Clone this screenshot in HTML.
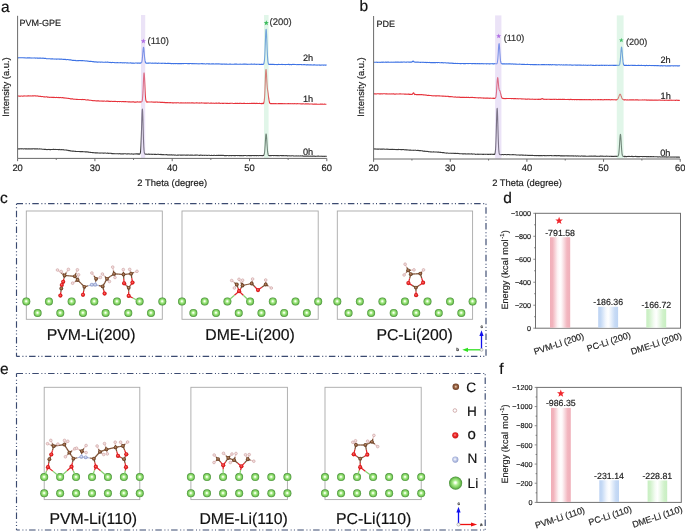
<!DOCTYPE html><html><head><meta charset="utf-8"><style>html,body{margin:0;padding:0;background:#fff;overflow:hidden}svg{display:block;will-change:transform}text{font-family:"Liberation Sans",sans-serif;text-rendering:geometricPrecision;stroke:currentColor;stroke-width:0.18px}</style></head><body>
<svg width="685" height="531" viewBox="0 0 685 531">
<defs>
<radialGradient id="li" cx="0.5" cy="0.5" r="0.5" fx="0.48" fy="0.46">
<stop offset="0" stop-color="#ffffff"/><stop offset="0.14" stop-color="#f2ffe9"/><stop offset="0.38" stop-color="#aeee90"/><stop offset="0.7" stop-color="#7ccd5e"/><stop offset="0.88" stop-color="#5ca846"/><stop offset="1" stop-color="#438c34"/></radialGradient>
<linearGradient id="gp" x1="0" x2="1" y1="0" y2="0"><stop offset="0" stop-color="#f1aeb8"/><stop offset="0.13" stop-color="#f2b4bd"/><stop offset="0.38" stop-color="#fdf4f5"/><stop offset="0.5" stop-color="#fff"/><stop offset="0.58" stop-color="#fdf5f6"/><stop offset="0.84" stop-color="#f2b6bf"/><stop offset="1" stop-color="#f0b0ba"/></linearGradient>
<linearGradient id="gb" x1="0" x2="1" y1="0" y2="0"><stop offset="0" stop-color="#bdd3f3"/><stop offset="0.13" stop-color="#c4d9f5"/><stop offset="0.38" stop-color="#f3f7fd"/><stop offset="0.5" stop-color="#fff"/><stop offset="0.58" stop-color="#f4f8fd"/><stop offset="0.84" stop-color="#c6daf5"/><stop offset="1" stop-color="#bfd5f3"/></linearGradient>
<linearGradient id="gg" x1="0" x2="1" y1="0" y2="0"><stop offset="0" stop-color="#c8efc2"/><stop offset="0.13" stop-color="#cff1c9"/><stop offset="0.38" stop-color="#f4fcf3"/><stop offset="0.5" stop-color="#fff"/><stop offset="0.58" stop-color="#f5fcf4"/><stop offset="0.84" stop-color="#d0f1ca"/><stop offset="1" stop-color="#c8efc2"/></linearGradient>
</defs>
<text x="1" y="11.7" font-size="15.5" text-anchor="start" fill="#111" color="#111" >a</text>
<text x="19.5" y="26.4" font-size="9" text-anchor="start" fill="#222" color="#222" >PVM-GPE</text>
<polyline points="17.60,57.75 18.10,57.70 18.60,57.85 19.10,57.68 19.60,57.82 20.10,57.77 20.60,57.68 21.10,57.82 21.60,57.68 22.10,57.81 22.60,57.71 23.10,57.72 23.60,57.83 24.10,57.96 24.60,57.75 25.10,57.79 25.60,57.92 26.10,58.03 26.60,57.93 27.10,57.88 27.60,58.07 28.10,57.80 28.60,58.05 29.10,57.89 29.60,57.86 30.10,57.86 30.60,57.93 31.10,58.09 31.60,57.91 32.10,58.04 32.60,58.07 33.10,58.00 33.60,58.06 34.10,57.92 34.60,57.93 35.10,57.98 35.60,58.13 36.10,58.06 36.60,58.03 37.10,58.11 37.60,58.08 38.10,58.03 38.60,58.19 39.10,58.16 39.60,58.02 40.10,58.12 40.60,58.11 41.10,58.23 41.60,58.21 42.10,58.11 42.60,58.35 43.10,58.14 43.60,58.27 44.10,58.43 44.60,58.30 45.10,58.45 45.60,58.37 46.10,58.61 46.60,58.69 47.10,58.68 47.60,58.81 48.10,58.68 48.60,58.82 49.10,58.81 49.60,58.82 50.10,58.79 50.60,58.90 51.10,58.94 51.60,58.81 52.10,58.89 52.60,58.73 53.10,58.94 53.60,58.95 54.10,59.09 54.60,59.07 55.10,58.94 55.60,59.00 56.10,59.11 56.60,58.95 57.10,59.11 57.60,59.04 58.10,59.05 58.60,59.05 59.10,59.27 59.60,59.09 60.10,59.12 60.60,59.17 61.10,59.32 61.60,59.09 62.10,59.22 62.60,59.27 63.10,59.40 63.60,59.40 64.10,59.45 64.60,59.31 65.10,59.39 65.60,59.42 66.10,59.62 66.60,59.69 67.10,59.50 67.60,59.56 68.10,59.63 68.60,59.69 69.10,59.82 69.60,59.91 70.10,59.87 70.60,59.85 71.10,60.04 71.60,60.08 72.10,60.19 72.60,60.36 73.10,60.34 73.60,60.34 74.10,60.42 74.60,60.48 75.10,60.34 75.60,60.63 76.10,60.63 76.60,60.70 77.10,60.70 77.60,60.61 78.10,60.63 78.60,60.56 79.10,60.73 79.60,60.57 80.10,60.57 80.60,60.61 81.10,60.61 81.60,60.67 82.10,60.60 82.60,60.60 83.10,60.67 83.60,60.68 84.10,60.78 84.60,60.72 85.10,61.01 85.60,60.97 86.10,60.87 86.60,60.95 87.10,61.02 87.60,61.08 88.10,61.05 88.60,61.32 89.10,61.42 89.60,61.32 90.10,61.38 90.60,61.31 91.10,61.37 91.60,61.50 92.10,61.53 92.60,61.75 93.10,61.60 93.60,61.61 94.10,61.93 94.60,61.85 95.10,61.77 95.60,61.93 96.10,61.81 96.60,61.99 97.10,62.16 97.60,62.15 98.10,62.12 98.60,62.00 99.10,62.05 99.60,62.00 100.10,62.18 100.60,62.11 101.10,62.19 101.60,62.05 102.10,62.03 102.60,62.21 103.10,62.27 103.60,62.24 104.10,62.24 104.60,62.26 105.10,62.25 105.60,62.11 106.10,62.22 106.60,62.19 107.10,62.11 107.60,62.13 108.10,62.23 108.60,62.25 109.10,62.40 109.60,62.50 110.10,62.37 110.60,62.54 111.10,62.58 111.60,62.59 112.10,62.44 112.60,62.42 113.10,62.44 113.60,62.45 114.10,62.48 114.60,62.62 115.10,62.72 115.60,62.72 116.10,62.63 116.60,62.69 117.10,62.75 117.60,62.55 118.10,62.73 118.60,62.81 119.10,62.78 119.60,62.77 120.10,62.69 120.60,62.60 121.10,62.79 121.60,62.66 122.10,62.80 122.60,62.86 123.10,62.70 123.60,62.72 124.10,62.89 124.60,62.84 125.10,62.69 125.60,62.70 126.10,62.73 126.60,62.97 127.10,62.96 127.60,62.79 128.10,63.01 128.60,63.08 129.10,63.00 129.60,62.93 130.10,63.01 130.60,62.90 131.10,62.89 131.60,63.19 132.10,63.11 132.60,63.08 133.10,63.21 133.60,63.07 134.10,63.21 134.60,63.20 135.10,63.01 135.60,63.03 136.10,63.04 136.60,63.02 137.10,63.13 137.60,63.03 138.10,63.08 138.60,62.99 138.80,63.22 139.00,63.06 139.20,63.09 139.40,63.13 139.60,63.22 139.80,63.08 140.00,63.23 140.20,63.10 140.40,63.11 140.60,63.10 140.80,62.93 141.00,63.03 141.20,62.87 141.40,62.66 141.60,62.59 141.80,61.86 142.00,61.06 142.20,59.80 142.40,57.92 142.60,55.58 142.80,53.10 143.00,50.63 143.20,48.68 143.40,47.29 143.60,47.30 143.80,48.18 144.00,50.06 144.20,52.62 144.40,55.09 144.60,57.46 144.80,59.46 145.00,60.94 145.20,61.78 145.40,62.44 145.60,62.76 145.80,62.95 146.00,63.09 146.20,63.06 146.40,63.10 146.60,63.09 146.80,63.23 147.00,63.16 147.20,63.21 147.40,63.23 147.60,63.03 147.80,63.12 148.00,63.23 148.20,63.20 148.40,62.99 148.60,62.99 149.10,63.09 149.60,62.98 150.10,63.03 150.60,62.98 151.10,63.17 151.60,63.20 152.10,63.24 152.60,63.03 153.10,63.20 153.60,63.19 154.10,63.04 154.60,63.27 155.10,63.31 155.60,63.09 156.10,63.32 156.60,63.16 157.10,63.20 157.60,63.36 158.10,63.32 158.60,63.13 159.10,63.22 159.60,63.26 160.10,63.22 160.60,63.18 161.10,63.23 161.60,63.37 162.10,63.17 162.60,63.34 163.10,63.32 163.60,63.20 164.10,63.31 164.60,63.41 165.10,63.39 165.60,63.27 166.10,63.55 166.60,63.51 167.10,63.57 167.60,63.32 168.10,63.38 168.60,63.33 169.10,63.56 169.60,63.42 170.10,63.38 170.60,63.48 171.10,63.64 171.60,63.62 172.10,63.46 172.60,63.43 173.10,63.67 173.60,63.58 174.10,63.62 174.60,63.44 175.10,63.44 175.60,63.63 176.10,63.56 176.60,63.46 177.10,63.72 177.60,63.63 178.10,63.69 178.60,63.47 179.10,63.71 179.60,63.47 180.10,63.71 180.60,63.59 181.10,63.55 181.60,63.62 182.10,63.73 182.60,63.53 183.10,63.49 183.60,63.61 184.10,63.53 184.60,63.49 185.10,63.51 185.60,63.48 186.10,63.53 186.60,63.56 187.10,63.56 187.60,63.70 188.10,63.56 188.60,63.63 189.10,63.54 189.60,63.59 190.10,63.50 190.60,63.57 191.10,63.50 191.60,63.72 192.10,63.67 192.60,63.57 193.10,63.66 193.60,63.80 194.10,63.56 194.60,63.78 195.10,63.67 195.60,63.69 196.10,63.80 196.60,63.67 197.10,63.71 197.60,63.77 198.10,63.87 198.60,63.68 199.10,63.84 199.60,63.81 200.10,63.79 200.60,63.73 201.10,63.72 201.60,63.64 202.10,63.67 202.60,63.66 203.10,63.87 203.60,63.73 204.10,63.71 204.60,63.69 205.10,63.93 205.60,63.94 206.10,63.89 206.60,63.78 207.10,63.78 207.60,63.80 208.10,63.86 208.60,63.77 209.10,63.87 209.60,63.82 210.10,64.04 210.60,64.05 211.10,63.93 211.60,63.85 212.10,64.07 212.60,63.88 213.10,63.90 213.60,63.81 214.10,63.93 214.60,63.96 215.10,63.98 215.60,63.90 216.10,63.99 216.60,63.85 217.10,63.94 217.60,63.89 218.10,63.99 218.60,63.89 219.10,63.89 219.60,63.98 220.10,63.97 220.60,64.08 221.10,64.07 221.60,64.14 222.10,64.12 222.60,64.15 223.10,64.20 223.60,64.06 224.10,64.05 224.60,64.25 225.10,64.01 225.60,64.18 226.10,64.17 226.60,63.99 227.10,64.23 227.60,64.25 228.10,64.18 228.60,64.22 229.10,64.24 229.60,64.05 230.10,64.17 230.60,64.16 231.10,64.27 231.60,64.26 232.10,64.27 232.60,64.20 233.10,64.30 233.60,64.24 234.10,64.24 234.60,64.11 235.10,64.05 235.60,64.08 236.10,64.15 236.60,64.08 237.10,64.30 237.60,64.21 238.10,64.24 238.60,64.24 239.10,64.25 239.60,64.20 240.10,64.05 240.60,64.29 241.10,64.27 241.60,64.20 242.10,64.21 242.60,64.25 243.10,64.07 243.60,64.27 244.10,64.13 244.60,64.08 245.10,64.14 245.60,64.28 246.10,64.12 246.60,64.28 247.10,64.36 247.60,64.22 248.10,64.18 248.60,64.22 249.10,64.28 249.60,64.31 250.10,64.27 250.60,64.28 251.10,64.11 251.60,64.13 252.10,64.17 252.60,64.32 253.10,64.19 253.60,64.27 254.10,64.11 254.60,64.13 255.10,64.20 255.60,64.32 256.10,64.33 256.60,64.33 257.10,64.22 257.60,64.29 258.10,64.28 258.60,64.29 259.10,64.19 259.60,64.42 260.10,64.22 260.60,64.46 261.10,64.45 261.60,64.18 261.80,64.31 262.00,64.42 262.20,64.47 262.40,64.32 262.60,64.26 262.80,64.24 263.00,64.45 263.20,64.21 263.40,64.26 263.60,63.99 263.80,63.83 264.00,63.43 264.20,62.26 264.40,60.96 264.60,58.57 264.80,55.45 265.00,51.21 265.20,46.11 265.40,41.01 265.60,35.88 265.80,31.75 266.00,29.44 266.20,29.38 266.40,31.28 266.60,34.95 266.80,39.77 267.00,45.14 267.20,50.20 267.40,54.71 267.60,57.89 267.80,60.59 268.00,62.27 268.20,63.08 268.40,63.91 268.60,64.17 268.80,64.39 269.00,64.28 269.20,64.34 269.40,64.36 269.60,64.55 269.80,64.43 270.00,64.36 270.20,64.39 270.40,64.34 270.60,64.28 270.80,64.29 271.00,64.52 271.20,64.35 271.70,64.55 272.20,64.35 272.70,64.36 273.20,64.44 273.70,64.34 274.20,64.40 274.70,64.58 275.20,64.56 275.70,64.55 276.20,64.50 276.70,64.58 277.20,64.60 277.70,64.48 278.20,64.54 278.70,64.34 279.20,64.54 279.70,64.46 280.20,64.56 280.70,64.53 281.20,64.42 281.70,64.35 282.20,64.62 282.70,64.38 283.20,64.48 283.70,64.45 284.20,64.43 284.70,64.57 285.20,64.64 285.70,64.43 286.20,64.55 286.70,64.44 287.20,64.52 287.70,64.47 288.20,64.40 288.70,64.40 289.20,64.41 289.70,64.62 290.20,64.50 290.70,64.42 291.20,64.63 291.70,64.66 292.20,64.50 292.70,64.41 293.20,64.43 293.70,64.41 294.20,64.49 294.70,64.42 295.20,64.47 295.70,64.48 296.20,64.58 296.70,64.69 297.20,64.65 297.70,64.56 298.20,64.57 298.70,64.61 299.20,64.58 299.70,64.57 300.20,64.50 300.70,64.58 301.20,64.79 301.70,64.55 302.20,64.68 302.70,64.73 303.20,64.81 303.70,64.62 304.20,64.65 304.70,64.66 305.20,64.71 305.70,64.74 306.20,64.91 306.70,64.89 307.20,64.91 307.70,64.66 308.20,64.68 308.70,64.89 309.20,64.96 309.70,64.85 310.20,64.89 310.70,64.73 311.20,64.86 311.70,65.03 312.20,65.01 312.70,65.03 313.20,65.08 313.70,64.87 314.20,64.84 314.70,64.86 315.20,64.98 315.70,65.04 316.20,65.13 316.70,65.07 317.20,65.06 317.70,65.10 318.20,65.02 318.70,65.05 319.20,64.91 319.70,65.14 320.20,64.98 320.70,65.19 321.20,65.11 321.70,65.02 322.20,64.97 322.70,65.01 323.20,65.13 323.70,65.15 324.20,64.98 324.70,64.97 325.20,65.10 325.70,65.12 326.20,65.07 326.70,65.02" fill="none" stroke="#3d72e4" stroke-width="1.1" stroke-linejoin="round"/>
<polyline points="17.60,96.13 18.10,95.95 18.60,96.04 19.10,96.08 19.60,96.23 20.10,96.13 20.60,96.20 21.10,96.07 21.60,95.99 22.10,95.99 22.60,96.20 23.10,96.11 23.60,95.99 24.10,95.89 24.60,96.03 25.10,96.07 25.60,95.99 26.10,95.93 26.60,96.04 27.10,96.11 27.60,95.89 28.10,95.82 28.60,95.91 29.10,95.92 29.60,95.99 30.10,95.84 30.60,96.02 31.10,95.99 31.60,95.92 32.10,95.82 32.60,96.05 33.10,95.85 33.60,96.00 34.10,95.82 34.60,95.82 35.10,95.98 35.60,95.86 36.10,96.08 36.60,95.97 37.10,95.92 37.60,95.98 38.10,96.09 38.60,96.22 39.10,96.37 39.60,96.19 40.10,96.33 40.60,96.34 41.10,96.63 41.60,96.44 42.10,96.47 42.60,96.52 43.10,96.67 43.60,96.86 44.10,96.88 44.60,96.86 45.10,96.95 45.60,96.93 46.10,96.78 46.60,96.80 47.10,97.10 47.60,97.14 48.10,97.03 48.60,97.31 49.10,97.30 49.60,97.35 50.10,97.35 50.60,97.30 51.10,97.26 51.60,97.34 52.10,97.37 52.60,97.56 53.10,97.32 53.60,97.58 54.10,97.37 54.60,97.42 55.10,97.57 55.60,97.58 56.10,97.47 56.60,97.36 57.10,97.49 57.60,97.46 58.10,97.63 58.60,97.41 59.10,97.48 59.60,97.65 60.10,97.41 60.60,97.55 61.10,97.70 61.60,97.72 62.10,97.54 62.60,97.58 63.10,97.63 63.60,97.94 64.10,97.79 64.60,98.00 65.10,98.10 65.60,97.99 66.10,98.04 66.60,98.31 67.10,98.27 67.60,98.23 68.10,98.44 68.60,98.39 69.10,98.45 69.60,98.43 70.10,98.73 70.60,98.85 71.10,98.83 71.60,98.99 72.10,98.78 72.60,98.90 73.10,99.04 73.60,99.24 74.10,99.29 74.60,99.17 75.10,99.18 75.60,99.28 76.10,99.34 76.60,99.50 77.10,99.31 77.60,99.52 78.10,99.53 78.60,99.57 79.10,99.57 79.60,99.53 80.10,99.45 80.60,99.45 81.10,99.47 81.60,99.60 82.10,99.41 82.60,99.46 83.10,99.65 83.60,99.53 84.10,99.50 84.60,99.53 85.10,99.72 85.60,99.70 86.10,99.94 86.60,99.96 87.10,100.04 87.60,99.88 88.10,99.88 88.60,99.94 89.10,100.11 89.60,100.24 90.10,100.22 90.60,100.21 91.10,100.32 91.60,100.44 92.10,100.51 92.60,100.59 93.10,100.68 93.60,100.67 94.10,100.56 94.60,100.82 95.10,100.70 95.60,100.83 96.10,100.81 96.60,100.95 97.10,100.82 97.60,100.86 98.10,100.88 98.60,100.87 99.10,101.10 99.60,101.02 100.10,100.95 100.60,100.97 101.10,101.15 101.60,101.01 102.10,100.93 102.60,101.11 103.10,101.07 103.60,101.19 104.10,100.93 104.60,101.06 105.10,101.18 105.60,101.20 106.10,101.24 106.60,101.00 107.10,101.09 107.60,101.06 108.10,101.10 108.60,101.36 109.10,101.27 109.60,101.39 110.10,101.25 110.60,101.42 111.10,101.32 111.60,101.29 112.10,101.46 112.60,101.54 113.10,101.31 113.60,101.47 114.10,101.50 114.60,101.40 115.10,101.46 115.60,101.41 116.10,101.45 116.60,101.47 117.10,101.59 117.60,101.62 118.10,101.49 118.60,101.44 119.10,101.54 119.60,101.65 120.10,101.51 120.60,101.54 121.10,101.51 121.60,101.70 122.10,101.63 122.60,101.49 123.10,101.51 123.60,101.61 124.10,101.67 124.60,101.72 125.10,101.57 125.60,101.61 126.10,101.79 126.60,101.72 127.10,101.71 127.60,101.74 128.10,101.95 128.60,101.78 129.10,101.88 129.60,101.83 130.10,101.87 130.60,102.02 131.10,102.08 131.60,101.91 132.10,101.87 132.60,102.04 133.10,101.89 133.60,101.84 134.10,102.12 134.60,101.98 135.10,102.10 135.60,101.97 136.10,102.11 136.60,101.99 137.10,101.90 137.60,101.85 138.10,102.02 138.60,102.04 139.10,102.12 139.30,101.88 139.50,102.04 139.70,101.96 139.90,102.00 140.10,101.89 140.30,101.93 140.50,102.01 140.70,102.13 140.90,101.88 141.10,101.99 141.30,102.06 141.50,102.05 141.70,101.70 141.90,101.43 142.10,101.18 142.30,100.30 142.50,98.66 142.70,96.26 142.90,93.35 143.10,89.16 143.30,84.71 143.50,80.00 143.70,76.12 143.90,73.38 144.10,72.92 144.30,74.14 144.50,77.33 144.70,81.75 144.90,86.44 145.10,90.68 145.30,94.43 145.50,97.31 145.70,99.31 145.90,100.51 146.10,101.16 146.30,101.58 146.50,101.92 146.70,102.06 146.90,101.84 147.10,102.01 147.30,102.07 147.50,101.86 147.70,102.10 147.90,101.89 148.10,102.03 148.30,102.02 148.50,102.04 148.70,101.95 148.90,101.98 149.10,102.03 149.60,101.99 150.10,102.06 150.60,102.00 151.10,102.01 151.60,101.89 152.10,102.08 152.60,102.05 153.10,101.99 153.60,102.16 154.10,102.17 154.60,102.09 155.10,102.02 155.60,102.12 156.10,102.03 156.60,102.05 157.10,102.16 157.60,102.08 158.10,102.20 158.60,102.24 159.10,102.12 159.60,102.32 160.10,102.17 160.60,102.39 161.10,102.42 161.60,102.36 162.10,102.25 162.60,102.40 163.10,102.39 163.60,102.58 164.10,102.36 164.60,102.60 165.10,102.66 165.60,102.60 166.10,102.65 166.60,102.48 167.10,102.74 167.60,102.61 168.10,102.77 168.60,102.78 169.10,102.57 169.60,102.78 170.10,102.84 170.60,102.60 171.10,102.70 171.60,102.84 172.10,102.67 172.60,102.91 173.10,102.74 173.60,102.91 174.10,102.72 174.60,102.84 175.10,102.98 175.60,102.77 176.10,102.80 176.60,102.88 177.10,102.83 177.60,102.75 178.10,102.80 178.60,102.79 179.10,103.03 179.60,102.95 180.10,103.02 180.60,102.80 181.10,102.99 181.60,102.79 182.10,102.91 182.60,102.94 183.10,102.86 183.60,103.02 184.10,102.92 184.60,102.93 185.10,103.02 185.60,102.79 186.10,103.06 186.60,102.95 187.10,102.89 187.60,103.01 188.10,102.85 188.60,103.07 189.10,102.95 189.60,102.89 190.10,103.01 190.60,102.92 191.10,102.84 191.60,103.02 192.10,102.81 192.60,103.05 193.10,102.88 193.60,103.00 194.10,103.11 194.60,103.00 195.10,103.02 195.60,102.92 196.10,102.83 196.60,102.85 197.10,102.89 197.60,103.03 198.10,102.98 198.60,103.01 199.10,103.13 199.60,102.91 200.10,102.94 200.60,103.08 201.10,102.89 201.60,102.89 202.10,103.01 202.60,102.94 203.10,103.02 203.60,102.98 204.10,103.10 204.60,103.11 205.10,103.00 205.60,103.13 206.10,103.09 206.60,103.00 207.10,103.24 207.60,103.04 208.10,103.02 208.60,103.01 209.10,103.18 209.60,103.26 210.10,103.23 210.60,103.13 211.10,103.09 211.60,103.02 212.10,103.22 212.60,103.20 213.10,103.14 213.60,103.24 214.10,103.19 214.60,103.34 215.10,103.28 215.60,103.15 216.10,103.35 216.60,103.10 217.10,103.25 217.60,103.22 218.10,103.17 218.60,103.12 219.10,103.35 219.60,103.12 220.10,103.29 220.60,103.41 221.10,103.18 221.60,103.20 222.10,103.33 222.60,103.30 223.10,103.35 223.60,103.41 224.10,103.22 224.60,103.26 225.10,103.27 225.60,103.20 226.10,103.45 226.60,103.42 227.10,103.41 227.60,103.20 228.10,103.46 228.60,103.43 229.10,103.35 229.60,103.44 230.10,103.35 230.60,103.29 231.10,103.25 231.60,103.29 232.10,103.24 232.60,103.33 233.10,103.46 233.60,103.44 234.10,103.49 234.60,103.45 235.10,103.32 235.60,103.41 236.10,103.38 236.60,103.48 237.10,103.40 237.60,103.33 238.10,103.44 238.60,103.54 239.10,103.31 239.60,103.51 240.10,103.25 240.60,103.33 241.10,103.32 241.60,103.47 242.10,103.53 242.60,103.48 243.10,103.35 243.60,103.52 244.10,103.35 244.60,103.33 245.10,103.53 245.60,103.45 246.10,103.47 246.60,103.46 247.10,103.56 247.60,103.41 248.10,103.52 248.60,103.48 249.10,103.53 249.60,103.41 250.10,103.50 250.60,103.45 251.10,103.38 251.60,103.35 252.10,103.48 252.60,103.32 253.10,103.57 253.60,103.35 254.10,103.32 254.60,103.34 255.10,103.59 255.60,103.42 256.10,103.37 256.60,103.34 257.10,103.35 257.60,103.55 258.10,103.53 258.60,103.56 259.10,103.57 259.60,103.38 260.10,103.54 260.60,103.47 261.10,103.62 261.30,103.62 261.50,103.64 261.70,103.40 261.90,103.64 262.10,103.65 262.30,103.66 262.50,103.41 262.70,103.44 262.90,103.41 263.10,103.38 263.30,103.59 263.50,103.49 263.70,103.24 263.90,102.89 264.10,102.08 264.30,100.66 264.50,98.49 264.70,95.40 264.90,91.47 265.10,86.32 265.30,80.95 265.50,75.88 265.70,71.76 265.90,69.61 266.10,69.49 266.30,71.45 266.50,74.57 266.70,78.42 266.90,82.35 267.10,85.33 267.30,87.78 267.50,89.41 267.70,90.58 267.90,91.99 268.10,93.41 268.30,95.11 268.50,96.67 268.70,98.44 268.90,99.87 269.10,101.00 269.30,102.11 269.50,102.53 269.70,103.17 269.90,103.23 270.10,103.32 270.30,103.46 270.50,103.66 270.70,103.74 270.90,103.46 271.10,103.61 271.30,103.61 271.50,103.71 271.70,103.53 271.90,103.62 272.10,103.58 272.30,103.73 272.50,103.56 272.70,103.76 272.90,103.57 273.40,103.55 273.90,103.70 274.40,103.64 274.90,103.53 275.40,103.69 275.90,103.53 276.40,103.74 276.90,103.72 277.40,103.75 277.90,103.71 278.40,103.63 278.90,103.64 279.40,103.64 279.90,103.80 280.40,103.56 280.90,103.80 281.40,103.54 281.90,103.60 282.40,103.62 282.90,103.81 283.40,103.69 283.90,103.66 284.40,103.81 284.90,103.62 285.40,103.69 285.90,103.71 286.40,103.78 286.90,103.78 287.40,103.74 287.90,103.65 288.40,103.65 288.90,103.60 289.40,103.80 289.90,103.75 290.40,103.78 290.90,103.61 291.40,103.69 291.90,103.79 292.40,103.74 292.90,103.61 293.40,103.71 293.90,103.84 294.40,103.65 294.90,103.64 295.40,103.68 295.90,103.81 296.40,103.86 296.90,103.66 297.40,103.66 297.90,103.70 298.40,103.73 298.90,103.80 299.40,103.70 299.90,103.75 300.40,103.72 300.90,103.97 301.40,103.90 301.90,103.72 302.40,103.99 302.90,103.74 303.40,103.83 303.90,104.02 304.40,103.98 304.90,103.97 305.40,103.89 305.90,103.83 306.40,103.97 306.90,103.82 307.40,103.86 307.90,103.93 308.40,103.83 308.90,103.95 309.40,104.08 309.90,104.06 310.40,104.01 310.90,104.06 311.40,104.02 311.90,103.93 312.40,104.08 312.90,104.03 313.40,104.14 313.90,104.20 314.40,104.06 314.90,104.11 315.40,104.17 315.90,104.08 316.40,104.03 316.90,104.19 317.40,104.24 317.90,104.22 318.40,104.20 318.90,104.26 319.40,104.21 319.90,104.20 320.40,104.15 320.90,104.12 321.40,104.21 321.90,104.06 322.40,104.16 322.90,104.27 323.40,104.25 323.90,104.23 324.40,104.12 324.90,104.17 325.40,104.18 325.90,104.24 326.40,104.17" fill="none" stroke="#e6323b" stroke-width="1.1" stroke-linejoin="round"/>
<polyline points="17.60,148.85 18.10,148.93 18.60,148.71 19.10,148.85 19.60,148.89 20.10,148.77 20.60,148.80 21.10,148.95 21.60,148.67 22.10,148.82 22.60,148.71 23.10,148.90 23.60,148.95 24.10,148.83 24.60,148.71 25.10,148.85 25.60,148.85 26.10,148.90 26.60,148.85 27.10,148.89 27.60,148.95 28.10,148.86 28.60,148.83 29.10,149.00 29.60,148.78 30.10,148.92 30.60,148.84 31.10,148.95 31.60,148.77 32.10,149.03 32.60,148.84 33.10,148.75 33.60,148.82 34.10,148.86 34.60,148.75 35.10,148.87 35.60,148.87 36.10,148.96 36.60,148.85 37.10,148.83 37.60,148.82 38.10,148.97 38.60,149.04 39.10,148.94 39.60,148.87 40.10,149.07 40.60,148.98 41.10,148.97 41.60,148.99 42.10,149.22 42.60,149.28 43.10,149.28 43.60,149.27 44.10,149.34 44.60,149.28 45.10,149.54 45.60,149.39 46.10,149.50 46.60,149.58 47.10,149.59 47.60,149.49 48.10,149.44 48.60,149.51 49.10,149.39 49.60,149.60 50.10,149.46 50.60,149.61 51.10,149.43 51.60,149.46 52.10,149.43 52.60,149.48 53.10,149.41 53.60,149.35 54.10,149.57 54.60,149.43 55.10,149.42 55.60,149.44 56.10,149.49 56.60,149.48 57.10,149.54 57.60,149.55 58.10,149.46 58.60,149.64 59.10,149.62 59.60,149.40 60.10,149.65 60.60,149.70 61.10,149.70 61.60,149.54 62.10,149.78 62.60,149.77 63.10,149.63 63.60,149.68 64.10,150.02 64.60,149.99 65.10,149.93 65.60,149.95 66.10,150.03 66.60,150.12 67.10,150.36 67.60,150.30 68.10,150.31 68.60,150.61 69.10,150.65 69.60,150.54 70.10,150.83 70.60,150.82 71.10,150.94 71.60,150.97 72.10,151.11 72.60,151.14 73.10,151.22 73.60,151.09 74.10,151.30 74.60,151.30 75.10,151.41 75.60,151.37 76.10,151.55 76.60,151.48 77.10,151.43 77.60,151.45 78.10,151.45 78.60,151.57 79.10,151.45 79.60,151.59 80.10,151.49 80.60,151.60 81.10,151.61 81.60,151.63 82.10,151.74 82.60,151.50 83.10,151.77 83.60,151.69 84.10,151.74 84.60,151.81 85.10,151.90 85.60,151.80 86.10,151.85 86.60,152.06 87.10,151.84 87.60,152.06 88.10,152.11 88.60,151.98 89.10,152.21 89.60,152.28 90.10,152.41 90.60,152.29 91.10,152.54 91.60,152.45 92.10,152.49 92.60,152.67 93.10,152.46 93.60,152.71 94.10,152.73 94.60,152.69 95.10,152.89 95.60,152.78 96.10,152.85 96.60,152.89 97.10,152.99 97.60,152.85 98.10,152.94 98.60,152.95 99.10,153.00 99.60,153.09 100.10,152.94 100.60,153.10 101.10,152.97 101.60,153.01 102.10,152.95 102.60,153.03 103.10,153.18 103.60,153.10 104.10,153.16 104.60,153.04 105.10,153.05 105.60,153.07 106.10,153.18 106.60,153.22 107.10,153.29 107.60,153.09 108.10,153.33 108.60,153.41 109.10,153.34 109.60,153.22 110.10,153.32 110.60,153.27 111.10,153.35 111.60,153.60 112.10,153.54 112.60,153.58 113.10,153.65 113.60,153.72 114.10,153.65 114.60,153.68 115.10,153.71 115.60,153.75 116.10,153.74 116.60,153.79 117.10,153.66 117.60,153.81 118.10,153.76 118.60,153.86 119.10,153.67 119.60,153.70 120.10,153.66 120.60,153.88 121.10,153.93 121.60,153.85 122.10,153.77 122.60,153.91 123.10,153.90 123.60,153.84 124.10,153.76 124.60,153.78 125.10,153.82 125.60,153.80 126.10,153.84 126.60,153.92 127.10,154.02 127.60,153.76 128.10,153.93 128.60,153.78 129.10,153.81 129.60,154.03 130.10,153.97 130.60,154.08 131.10,153.95 131.60,153.83 132.10,153.95 132.60,154.01 133.10,154.12 133.60,154.14 134.10,153.99 134.60,153.97 135.10,153.88 135.60,154.04 136.10,153.92 136.60,153.90 137.10,153.86 137.60,153.87 137.80,154.07 138.00,153.91 138.20,154.16 138.40,153.90 138.60,154.14 138.80,153.92 139.00,153.89 139.20,154.10 139.40,153.95 139.60,154.07 139.80,153.83 140.00,153.60 140.20,153.43 140.40,152.65 140.60,151.31 140.80,148.98 141.00,145.26 141.20,140.51 141.40,134.30 141.60,127.10 141.80,120.09 142.00,113.79 142.20,110.08 142.40,109.02 142.60,110.97 142.80,115.85 143.00,122.68 143.20,130.00 143.40,136.65 143.60,142.50 143.80,147.01 144.00,149.88 144.20,152.01 144.40,153.02 144.60,153.50 144.80,153.89 145.00,154.09 145.20,154.11 145.40,154.21 145.60,154.06 145.80,154.26 146.00,154.14 146.20,154.22 146.40,154.22 146.60,154.16 146.80,154.15 147.00,154.28 147.20,154.33 147.40,154.28 147.90,154.22 148.40,154.14 148.90,154.07 149.40,154.34 149.90,154.26 150.40,154.30 150.90,154.16 151.40,154.24 151.90,154.36 152.40,154.33 152.90,154.27 153.40,154.19 153.90,154.23 154.40,154.38 154.90,154.24 155.40,154.35 155.90,154.34 156.40,154.44 156.90,154.43 157.40,154.29 157.90,154.22 158.40,154.32 158.90,154.39 159.40,154.45 159.90,154.54 160.40,154.59 160.90,154.35 161.40,154.61 161.90,154.63 162.40,154.67 162.90,154.60 163.40,154.53 163.90,154.73 164.40,154.74 164.90,154.73 165.40,154.82 165.90,154.67 166.40,154.61 166.90,154.78 167.40,154.87 167.90,154.71 168.40,154.90 168.90,154.98 169.40,154.79 169.90,154.92 170.40,154.96 170.90,154.91 171.40,154.85 171.90,154.88 172.40,155.05 172.90,155.08 173.40,154.99 173.90,154.89 174.40,155.12 174.90,155.12 175.40,154.97 175.90,155.09 176.40,155.19 176.90,155.19 177.40,155.09 177.90,155.08 178.40,155.12 178.90,155.00 179.40,155.01 179.90,155.00 180.40,155.16 180.90,155.06 181.40,155.12 181.90,155.07 182.40,155.11 182.90,155.00 183.40,154.97 183.90,155.25 184.40,155.07 184.90,154.99 185.40,155.15 185.90,155.20 186.40,155.01 186.90,155.15 187.40,155.07 187.90,155.13 188.40,154.98 188.90,154.99 189.40,155.28 189.90,155.24 190.40,155.13 190.90,155.16 191.40,155.07 191.90,155.23 192.40,155.13 192.90,155.29 193.40,155.24 193.90,155.26 194.40,155.31 194.90,155.10 195.40,155.04 195.90,155.09 196.40,155.09 196.90,155.07 197.40,155.06 197.90,155.22 198.40,155.32 198.90,155.20 199.40,155.35 199.90,155.35 200.40,155.10 200.90,155.26 201.40,155.21 201.90,155.13 202.40,155.39 202.90,155.19 203.40,155.28 203.90,155.31 204.40,155.41 204.90,155.33 205.40,155.26 205.90,155.28 206.40,155.20 206.90,155.45 207.40,155.46 207.90,155.24 208.40,155.19 208.90,155.26 209.40,155.30 209.90,155.47 210.40,155.48 210.90,155.46 211.40,155.23 211.90,155.46 212.40,155.44 212.90,155.43 213.40,155.54 213.90,155.27 214.40,155.30 214.90,155.49 215.40,155.55 215.90,155.48 216.40,155.37 216.90,155.46 217.40,155.52 217.90,155.33 218.40,155.40 218.90,155.39 219.40,155.35 219.90,155.47 220.40,155.38 220.90,155.41 221.40,155.38 221.90,155.55 222.40,155.35 222.90,155.57 223.40,155.42 223.90,155.38 224.40,155.65 224.90,155.44 225.40,155.66 225.90,155.64 226.40,155.65 226.90,155.43 227.40,155.53 227.90,155.43 228.40,155.68 228.90,155.66 229.40,155.60 229.90,155.55 230.40,155.52 230.90,155.67 231.40,155.57 231.90,155.62 232.40,155.47 232.90,155.50 233.40,155.45 233.90,155.65 234.40,155.60 234.90,155.48 235.40,155.70 235.90,155.52 236.40,155.57 236.90,155.49 237.40,155.53 237.90,155.70 238.40,155.55 238.90,155.50 239.40,155.60 239.90,155.55 240.40,155.72 240.90,155.48 241.40,155.74 241.90,155.47 242.40,155.72 242.90,155.65 243.40,155.51 243.90,155.59 244.40,155.54 244.90,155.53 245.40,155.51 245.90,155.56 246.40,155.75 246.90,155.75 247.40,155.73 247.90,155.48 248.40,155.54 248.90,155.72 249.40,155.47 249.90,155.67 250.40,155.54 250.90,155.74 251.40,155.45 251.90,155.69 252.40,155.55 252.90,155.49 253.40,155.45 253.90,155.70 254.40,155.61 254.90,155.51 255.40,155.58 255.90,155.72 256.40,155.52 256.90,155.62 257.40,155.49 257.90,155.50 258.40,155.68 258.90,155.66 259.40,155.51 259.90,155.47 260.40,155.48 260.90,155.63 261.40,155.60 261.60,155.53 261.80,155.51 262.00,155.63 262.20,155.66 262.40,155.69 262.60,155.62 262.80,155.51 263.00,155.46 263.20,155.64 263.40,155.50 263.60,155.51 263.80,155.14 264.00,155.04 264.20,154.32 264.40,153.54 264.60,152.12 264.80,150.00 265.00,147.27 265.20,144.46 265.40,141.04 265.60,138.06 265.80,135.40 266.00,133.95 266.20,134.01 266.40,135.06 266.60,137.30 266.80,140.38 267.00,143.73 267.20,146.69 267.40,149.55 267.60,151.65 267.80,153.20 268.00,154.11 268.20,154.92 268.40,155.32 268.60,155.53 268.80,155.47 269.00,155.63 269.20,155.55 269.40,155.67 269.60,155.47 269.80,155.71 270.00,155.74 270.20,155.60 270.40,155.60 270.60,155.61 270.80,155.61 271.00,155.46 271.20,155.74 271.70,155.52 272.20,155.51 272.70,155.48 273.20,155.53 273.70,155.70 274.20,155.47 274.70,155.49 275.20,155.67 275.70,155.52 276.20,155.47 276.70,155.65 277.20,155.65 277.70,155.64 278.20,155.69 278.70,155.52 279.20,155.75 279.70,155.71 280.20,155.51 280.70,155.54 281.20,155.66 281.70,155.67 282.20,155.61 282.70,155.57 283.20,155.66 283.70,155.58 284.20,155.73 284.70,155.81 285.20,155.61 285.70,155.74 286.20,155.80 286.70,155.63 287.20,155.84 287.70,155.88 288.20,155.73 288.70,155.74 289.20,155.88 289.70,155.79 290.20,155.76 290.70,155.93 291.20,155.89 291.70,155.77 292.20,155.75 292.70,155.79 293.20,155.83 293.70,156.00 294.20,155.96 294.70,156.00 295.20,155.98 295.70,156.00 296.20,155.77 296.70,155.92 297.20,156.06 297.70,156.06 298.20,155.87 298.70,155.93 299.20,156.00 299.70,155.93 300.20,155.99 300.70,155.86 301.20,155.98 301.70,156.01 302.20,155.88 302.70,155.92 303.20,156.18 303.70,156.13 304.20,156.19 304.70,156.11 305.20,156.17 305.70,156.20 306.20,156.21 306.70,155.96 307.20,156.15 307.70,156.05 308.20,156.18 308.70,156.07 309.20,156.16 309.70,156.28 310.20,156.20 310.70,156.09 311.20,156.18 311.70,156.16 312.20,156.33 312.70,156.13 313.20,156.15 313.70,156.26 314.20,156.10 314.70,156.25 315.20,156.37 315.70,156.24 316.20,156.17 316.70,156.24 317.20,156.26 317.70,156.15 318.20,156.15 318.70,156.15 319.20,156.21 319.70,156.24 320.20,156.21 320.70,156.20 321.20,156.16 321.70,156.30 322.20,156.39 322.70,156.32 323.20,156.31 323.70,156.34 324.20,156.21 324.70,156.36 325.20,156.29 325.70,156.31 326.20,156.33 326.70,156.29" fill="none" stroke="#3c3c3c" stroke-width="1.1" stroke-linejoin="round"/>
<rect x="141" y="15" width="4.2" height="143" fill="rgb(208,190,236)" fill-opacity="0.43"/>
<rect x="264" y="15" width="4.6" height="143" fill="rgb(185,234,204)" fill-opacity="0.43"/>
<path d="M17.6,15.8 V158.4 H326.80" fill="none" stroke="#6a6a6a" stroke-width="1"/>
<line x1="17.60" y1="158.4" x2="17.60" y2="161.20000000000002" stroke="#6a6a6a" stroke-width="1"/>
<text x="17.60" y="170.8" font-size="9.4" text-anchor="middle" fill="#222" color="#222" >20</text>
<line x1="94.90" y1="158.4" x2="94.90" y2="161.20000000000002" stroke="#6a6a6a" stroke-width="1"/>
<text x="94.90" y="170.8" font-size="9.4" text-anchor="middle" fill="#222" color="#222" >30</text>
<line x1="172.20" y1="158.4" x2="172.20" y2="161.20000000000002" stroke="#6a6a6a" stroke-width="1"/>
<text x="172.20" y="170.8" font-size="9.4" text-anchor="middle" fill="#222" color="#222" >40</text>
<line x1="249.50" y1="158.4" x2="249.50" y2="161.20000000000002" stroke="#6a6a6a" stroke-width="1"/>
<text x="249.50" y="170.8" font-size="9.4" text-anchor="middle" fill="#222" color="#222" >50</text>
<line x1="326.80" y1="158.4" x2="326.80" y2="161.20000000000002" stroke="#6a6a6a" stroke-width="1"/>
<text x="326.80" y="170.8" font-size="9.4" text-anchor="middle" fill="#222" color="#222" >60</text>
<line x1="56.25" y1="158.4" x2="56.25" y2="159.9" stroke="#6a6a6a" stroke-width="1"/>
<line x1="133.55" y1="158.4" x2="133.55" y2="159.9" stroke="#6a6a6a" stroke-width="1"/>
<line x1="210.85" y1="158.4" x2="210.85" y2="159.9" stroke="#6a6a6a" stroke-width="1"/>
<line x1="288.15" y1="158.4" x2="288.15" y2="159.9" stroke="#6a6a6a" stroke-width="1"/>
<text x="172.2" y="185.6" font-size="9.4" text-anchor="middle" fill="#222" color="#222" >2 Theta (degree)</text>
<text x="0" y="0" font-size="9.4" text-anchor="middle" fill="#222" color="#222" transform="translate(9.2,87) rotate(-90)">Intensity (a.u.)</text>
<polygon points="143.40,38.50 144.07,40.28 145.97,40.37 144.48,41.55 144.99,43.38 143.40,42.33 141.81,43.38 142.32,41.55 140.83,40.37 142.73,40.28" fill="#b06ee3"/>
<text x="147.5" y="43.7" font-size="9.5" text-anchor="start" fill="#333" color="#333" >(110)</text>
<polygon points="266.30,20.30 266.97,22.08 268.87,22.17 267.38,23.35 267.89,25.18 266.30,24.13 264.71,25.18 265.22,23.35 263.73,22.17 265.63,22.08" fill="#3dbb5d"/>
<text x="269.6" y="25.4" font-size="9.5" text-anchor="start" fill="#333" color="#333" >(200)</text>
<text x="303" y="61.3" font-size="9.2" text-anchor="start" fill="#222" color="#222" >2h</text>
<text x="303" y="101.8" font-size="9.2" text-anchor="start" fill="#222" color="#222" >1h</text>
<text x="303" y="155.0" font-size="9.2" text-anchor="start" fill="#222" color="#222" >0h</text>
<text x="359.5" y="11.2" font-size="15.5" text-anchor="start" fill="#111" color="#111" >b</text>
<text x="376.4" y="27.3" font-size="9" text-anchor="start" fill="#222" color="#222" >PDE</text>
<polyline points="373.60,62.24 374.10,62.22 374.60,62.22 375.10,62.30 375.60,62.26 376.10,62.32 376.60,62.15 377.10,62.25 377.60,62.40 378.10,62.21 378.60,62.30 379.10,62.28 379.60,62.21 380.10,62.42 380.60,62.21 381.10,62.34 381.60,62.15 382.10,62.12 382.60,62.36 383.10,62.22 383.60,62.10 384.10,62.20 384.60,62.21 385.10,62.29 385.60,62.10 386.10,62.12 386.60,62.34 387.10,62.27 387.60,62.08 388.10,62.13 388.60,62.13 389.10,62.22 389.60,62.20 390.10,62.26 390.60,62.25 391.10,62.15 391.60,62.22 392.10,62.21 392.60,62.21 393.10,62.12 393.60,62.21 394.10,62.18 394.60,62.24 395.10,62.00 395.60,62.22 396.10,61.96 396.60,62.19 397.10,62.13 397.60,62.10 398.10,62.24 398.60,62.12 399.10,62.08 399.60,62.19 400.10,62.21 400.60,62.13 401.10,62.06 401.60,62.09 402.10,62.09 402.60,62.17 403.10,62.04 403.60,62.07 404.10,62.12 404.60,62.07 405.10,62.05 405.60,62.19 406.10,62.20 406.60,62.10 407.10,62.08 407.60,62.01 408.10,62.04 408.30,61.99 408.50,62.12 408.70,62.12 408.90,61.98 409.10,62.23 409.30,62.05 409.50,62.20 409.70,62.20 409.90,62.24 410.10,62.01 410.30,62.08 410.50,62.22 410.70,61.95 410.90,61.96 411.10,62.12 411.30,62.09 411.50,62.19 411.70,62.11 411.90,61.96 412.10,61.98 412.30,61.67 412.50,61.47 412.70,61.33 412.90,61.11 413.10,61.06 413.30,61.20 413.50,61.28 413.70,61.66 413.90,61.77 414.10,61.89 414.30,61.87 414.50,62.02 414.70,62.06 414.90,62.13 415.10,62.14 415.30,62.24 415.50,62.27 415.70,62.13 415.90,62.12 416.10,62.18 416.30,62.29 416.50,62.10 416.70,62.16 416.90,62.25 417.10,62.06 417.30,62.11 417.50,62.31 417.70,62.27 417.90,62.18 418.10,62.07 418.60,62.32 419.10,62.27 419.60,62.32 420.10,62.39 420.60,62.37 421.10,62.25 421.60,62.19 422.10,62.24 422.60,62.33 423.10,62.34 423.60,62.26 424.10,62.28 424.60,62.43 425.10,62.44 425.60,62.38 426.10,62.59 426.60,62.50 427.10,62.33 427.60,62.46 428.10,62.59 428.60,62.45 429.10,62.58 429.60,62.39 430.10,62.49 430.60,62.66 431.10,62.59 431.60,62.63 432.10,62.49 432.60,62.59 433.10,62.61 433.60,62.53 434.10,62.64 434.60,62.61 435.10,62.75 435.60,62.62 436.10,62.58 436.60,62.49 437.10,62.51 437.60,62.70 438.10,62.51 438.60,62.52 439.10,62.55 439.60,62.67 440.10,62.77 440.60,62.72 441.10,62.79 441.60,62.59 442.10,62.59 442.60,62.84 443.10,62.72 443.60,62.86 444.10,62.77 444.60,62.74 445.10,62.79 445.60,62.76 446.10,63.03 446.60,62.96 447.10,62.91 447.60,62.97 448.10,62.97 448.60,62.90 449.10,63.18 449.60,63.11 450.10,63.25 450.60,63.12 451.10,63.20 451.60,63.12 452.10,63.08 452.60,63.37 453.10,63.37 453.60,63.24 454.10,63.43 454.60,63.43 455.10,63.30 455.60,63.41 456.10,63.54 456.60,63.42 457.10,63.58 457.60,63.39 458.10,63.45 458.60,63.56 459.10,63.43 459.60,63.47 460.10,63.65 460.60,63.55 461.10,63.65 461.60,63.49 462.10,63.48 462.60,63.54 463.10,63.50 463.60,63.74 464.10,63.54 464.60,63.62 465.10,63.48 465.60,63.61 466.10,63.57 466.60,63.57 467.10,63.47 467.60,63.49 468.10,63.70 468.60,63.56 469.10,63.53 469.60,63.52 470.10,63.55 470.60,63.54 471.10,63.48 471.60,63.67 472.10,63.58 472.60,63.53 473.10,63.70 473.60,63.52 474.10,63.57 474.60,63.75 475.10,63.54 475.60,63.64 476.10,63.76 476.60,63.76 477.10,63.57 477.60,63.63 478.10,63.75 478.60,63.65 479.10,63.83 479.60,63.61 480.10,63.84 480.60,63.71 481.10,63.63 481.60,63.71 482.10,63.61 482.60,63.79 483.10,63.66 483.60,63.86 484.10,63.77 484.60,63.71 485.10,63.68 485.60,63.79 486.10,63.68 486.60,63.88 487.10,63.66 487.60,63.78 488.10,63.79 488.60,63.71 489.10,63.86 489.60,63.75 490.10,63.84 490.60,63.81 491.10,63.74 491.60,63.76 492.10,63.67 492.60,63.70 493.10,63.90 493.60,63.75 494.10,63.85 494.30,63.68 494.50,63.82 494.70,63.76 494.90,63.80 495.10,63.74 495.30,63.67 495.50,63.74 495.70,63.72 495.90,63.69 496.10,63.86 496.30,63.72 496.50,63.72 496.70,63.80 496.90,63.59 497.10,63.30 497.30,62.69 497.50,61.47 497.70,59.98 497.90,57.74 498.10,55.16 498.30,51.97 498.50,48.64 498.70,45.87 498.90,44.10 499.10,43.57 499.30,44.32 499.50,46.62 499.70,49.42 499.90,52.77 500.10,55.76 500.30,58.38 500.50,60.64 500.70,61.99 500.90,62.88 501.10,63.21 501.30,63.49 501.50,63.67 501.70,63.75 501.90,63.81 502.10,63.85 502.30,63.75 502.50,63.84 502.70,63.94 502.90,63.80 503.10,64.00 503.30,63.92 503.50,63.96 503.70,63.83 503.90,63.88 504.10,63.96 504.60,63.86 505.10,63.75 505.60,64.00 506.10,63.99 506.60,63.85 507.10,63.78 507.60,64.03 508.10,63.96 508.60,63.80 509.10,63.86 509.60,63.83 510.10,64.04 510.60,63.88 511.10,64.10 511.60,64.06 512.10,63.87 512.60,64.07 513.10,63.99 513.60,64.11 514.10,64.15 514.60,64.00 515.10,63.95 515.60,64.22 516.10,64.08 516.60,64.25 517.10,64.19 517.60,64.22 518.10,64.27 518.60,64.22 519.10,64.19 519.60,64.09 520.10,64.30 520.60,64.23 521.10,64.28 521.60,64.42 522.10,64.19 522.60,64.40 523.10,64.20 523.60,64.42 524.10,64.47 524.60,64.32 525.10,64.42 525.60,64.57 526.10,64.48 526.60,64.47 527.10,64.40 527.60,64.36 528.10,64.46 528.60,64.49 529.10,64.44 529.60,64.49 530.10,64.45 530.60,64.64 531.10,64.64 531.60,64.52 532.10,64.53 532.60,64.63 533.10,64.61 533.60,64.77 534.10,64.60 534.60,64.60 535.10,64.78 535.60,64.56 536.10,64.70 536.60,64.63 537.10,64.78 537.60,64.71 538.10,64.77 538.60,64.60 539.10,64.75 539.60,64.73 540.10,64.69 540.60,64.78 541.10,64.80 541.60,64.59 542.10,64.64 542.60,64.66 543.10,64.62 543.60,64.57 544.10,64.64 544.60,64.62 545.10,64.77 545.60,64.70 546.10,64.60 546.60,64.67 547.10,64.71 547.60,64.68 548.10,64.63 548.60,64.60 549.10,64.59 549.60,64.89 550.10,64.82 550.60,64.62 551.10,64.82 551.60,64.90 552.10,64.78 552.60,64.65 553.10,64.77 553.60,64.75 554.10,64.69 554.60,64.80 555.10,64.64 555.60,64.92 556.10,64.85 556.60,64.85 557.10,64.94 557.60,64.87 558.10,64.75 558.60,64.76 559.10,64.73 559.60,64.70 560.10,64.94 560.60,64.96 561.10,64.81 561.60,64.78 562.10,64.92 562.60,64.99 563.10,65.02 563.60,64.80 564.10,65.00 564.60,65.02 565.10,65.00 565.60,64.88 566.10,64.85 566.60,65.05 567.10,64.90 567.60,64.93 568.10,64.99 568.60,64.94 569.10,65.09 569.60,64.92 570.10,64.87 570.60,65.03 571.10,65.06 571.60,65.12 572.10,65.10 572.60,65.17 573.10,65.18 573.60,65.06 574.10,65.07 574.60,64.97 575.10,65.02 575.60,65.11 576.10,64.97 576.60,65.16 577.10,65.01 577.60,65.10 578.10,65.27 578.60,65.01 579.10,65.00 579.60,65.13 580.10,65.06 580.60,65.23 581.10,65.02 581.60,65.28 582.10,65.29 582.60,65.27 583.10,65.17 583.60,65.13 584.10,65.25 584.60,65.21 585.10,65.19 585.60,65.17 586.10,65.21 586.60,65.28 587.10,65.33 587.60,65.36 588.10,65.15 588.60,65.19 589.10,65.24 589.60,65.28 590.10,65.22 590.60,65.17 591.10,65.15 591.60,65.22 592.10,65.26 592.60,65.42 593.10,65.40 593.60,65.39 594.10,65.43 594.60,65.43 595.10,65.33 595.60,65.39 596.10,65.16 596.60,65.35 597.10,65.33 597.60,65.24 598.10,65.32 598.60,65.44 599.10,65.29 599.60,65.34 600.10,65.24 600.60,65.25 601.10,65.42 601.60,65.16 602.10,65.21 602.60,65.36 603.10,65.29 603.60,65.18 604.10,65.35 604.60,65.27 605.10,65.33 605.60,65.28 606.10,65.32 606.60,65.33 607.10,65.28 607.60,65.20 608.10,65.22 608.60,65.44 609.10,65.34 609.60,65.21 610.10,65.43 610.60,65.25 611.10,65.21 611.60,65.34 612.10,65.26 612.60,65.33 613.10,65.36 613.60,65.26 614.10,65.37 614.60,65.23 615.10,65.35 615.60,65.38 616.10,65.23 616.60,65.33 616.80,65.23 617.00,65.34 617.20,65.47 617.40,65.38 617.60,65.43 617.80,65.44 618.00,65.25 618.20,65.51 618.40,65.43 618.60,65.23 618.80,65.42 619.00,65.23 619.20,65.04 619.40,65.04 619.60,64.49 619.80,63.85 620.00,62.57 620.20,61.20 620.40,58.92 620.60,56.48 620.80,53.80 621.00,51.04 621.20,49.00 621.40,47.49 621.60,47.16 621.80,48.05 622.00,49.70 622.20,52.26 622.40,54.91 622.60,57.65 622.80,59.91 623.00,61.89 623.20,63.26 623.40,63.99 623.60,64.75 623.80,64.98 624.00,65.29 624.20,65.37 624.40,65.45 624.60,65.26 624.80,65.35 625.00,65.46 625.20,65.53 625.40,65.46 625.60,65.26 625.80,65.43 626.00,65.27 626.20,65.41 626.40,65.49 626.60,65.28 627.10,65.52 627.60,65.45 628.10,65.33 628.60,65.31 629.10,65.38 629.60,65.50 630.10,65.42 630.60,65.28 631.10,65.26 631.60,65.28 632.10,65.49 632.60,65.31 633.10,65.42 633.60,65.34 634.10,65.46 634.60,65.37 635.10,65.30 635.60,65.53 636.10,65.43 636.60,65.48 637.10,65.51 637.60,65.56 638.10,65.28 638.60,65.39 639.10,65.33 639.60,65.44 640.10,65.56 640.60,65.54 641.10,65.32 641.60,65.36 642.10,65.56 642.60,65.52 643.10,65.44 643.60,65.47 644.10,65.39 644.60,65.60 645.10,65.47 645.60,65.62 646.10,65.55 646.60,65.39 647.10,65.48 647.60,65.45 648.10,65.66 648.60,65.57 649.10,65.42 649.60,65.46 650.10,65.53 650.60,65.57 651.10,65.61 651.60,65.56 652.10,65.56 652.60,65.46 653.10,65.64 653.60,65.57 654.10,65.49 654.60,65.63 655.10,65.79 655.60,65.52 656.10,65.56 656.60,65.72 657.10,65.61 657.60,65.62 658.10,65.69 658.60,65.63 659.10,65.73 659.60,65.73 660.10,65.86 660.60,65.88 661.10,65.60 661.60,65.77 662.10,65.84 662.60,65.87 663.10,65.85 663.60,65.82 664.10,65.82 664.60,65.75 665.10,65.73 665.60,65.89 666.10,65.92 666.60,65.95 667.10,65.87 667.60,65.77 668.10,65.91 668.60,65.91 669.10,65.84 669.60,65.89 670.10,65.81 670.60,65.87 671.10,65.83 671.60,65.73 672.10,65.82 672.60,65.82 673.10,66.02 673.60,65.87 674.10,65.84 674.60,65.81 675.10,65.81 675.60,65.84 676.10,65.78 676.60,65.75 677.10,66.01 677.60,65.88 678.10,65.88 678.60,65.92 679.10,65.84 679.60,65.80 680.10,65.77" fill="none" stroke="#3d72e4" stroke-width="1.1" stroke-linejoin="round"/>
<polyline points="373.60,93.74 374.10,93.74 374.60,93.87 375.10,93.82 375.60,93.93 376.10,93.76 376.60,93.93 377.10,93.83 377.60,93.69 378.10,93.72 378.60,93.84 379.10,93.97 379.60,93.78 380.10,93.91 380.60,93.81 381.10,93.95 381.60,93.71 382.10,93.84 382.60,93.97 383.10,93.79 383.60,93.79 384.10,93.73 384.60,93.78 385.10,93.81 385.60,93.95 386.10,93.81 386.60,93.87 387.10,93.82 387.60,93.94 388.10,94.03 388.60,93.97 389.10,93.84 389.60,94.01 390.10,94.08 390.60,93.98 391.10,93.83 391.60,94.05 392.10,94.07 392.60,93.92 393.10,93.86 393.60,93.88 394.10,93.99 394.60,94.09 395.10,94.03 395.60,94.12 396.10,93.90 396.60,93.94 397.10,94.07 397.60,94.04 398.10,93.97 398.60,94.05 399.10,93.95 399.60,93.87 400.10,93.98 400.60,93.87 401.10,94.05 401.60,93.97 402.10,94.02 402.60,94.06 403.10,93.97 403.60,94.05 404.10,93.93 404.60,94.22 405.10,94.13 405.60,94.28 406.10,94.02 406.60,94.21 407.10,94.26 407.60,94.17 408.10,94.12 408.60,94.17 408.80,94.17 409.00,94.37 409.20,94.17 409.40,94.40 409.60,94.29 409.80,94.34 410.00,94.36 410.20,94.36 410.40,94.40 410.60,94.40 410.80,94.32 411.00,94.46 411.20,94.32 411.40,94.46 411.60,94.48 411.80,94.47 412.00,94.29 412.20,94.34 412.40,94.26 412.60,93.87 412.80,93.53 413.00,93.29 413.20,93.16 413.40,92.79 413.60,92.80 413.80,93.14 414.00,93.50 414.20,93.86 414.40,94.02 414.60,94.42 414.80,94.33 415.00,94.56 415.20,94.40 415.40,94.40 415.60,94.45 415.80,94.43 416.00,94.57 416.20,94.59 416.40,94.48 416.60,94.71 416.80,94.54 417.00,94.48 417.20,94.49 417.40,94.66 417.60,94.72 417.80,94.49 418.00,94.46 418.20,94.68 418.40,94.52 418.60,94.74 419.10,94.60 419.60,94.65 420.10,94.57 420.60,94.73 421.10,94.65 421.60,94.63 422.10,94.84 422.60,94.64 423.10,94.87 423.60,94.71 424.10,94.93 424.60,94.91 425.10,95.11 425.60,94.92 426.10,95.13 426.60,95.14 427.10,95.35 427.60,95.42 428.10,95.38 428.60,95.32 429.10,95.38 429.60,95.43 430.10,95.53 430.60,95.52 431.10,95.55 431.60,95.76 432.10,95.75 432.60,95.68 433.10,95.91 433.60,95.70 434.10,95.81 434.60,95.70 435.10,95.91 435.60,95.91 436.10,95.74 436.60,95.89 437.10,95.92 437.60,95.77 438.10,95.79 438.60,95.85 439.10,95.99 439.60,95.79 440.10,95.97 440.60,95.97 441.10,95.95 441.60,96.01 442.10,96.13 442.60,95.96 443.10,96.19 443.60,96.07 444.10,96.23 444.60,96.29 445.10,96.12 445.60,96.36 446.10,96.44 446.60,96.27 447.10,96.23 447.60,96.29 448.10,96.59 448.60,96.35 449.10,96.66 449.60,96.47 450.10,96.69 450.60,96.54 451.10,96.60 451.60,96.80 452.10,96.66 452.60,96.78 453.10,96.99 453.60,96.97 454.10,97.06 454.60,97.13 455.10,96.88 455.60,96.97 456.10,97.18 456.60,97.18 457.10,97.01 457.60,97.18 458.10,97.13 458.60,97.21 459.10,97.14 459.60,97.14 460.10,97.45 460.60,97.27 461.10,97.45 461.60,97.24 462.10,97.36 462.60,97.27 463.10,97.37 463.60,97.30 464.10,97.45 464.60,97.29 465.10,97.47 465.60,97.40 466.10,97.29 466.60,97.36 467.10,97.41 467.60,97.54 468.10,97.38 468.60,97.35 469.10,97.59 469.60,97.57 470.10,97.54 470.60,97.41 471.10,97.40 471.60,97.44 472.10,97.40 472.60,97.41 473.10,97.56 473.60,97.55 474.10,97.61 474.60,97.58 475.10,97.49 475.60,97.72 476.10,97.73 476.60,97.72 477.10,97.74 477.60,97.81 478.10,97.92 478.60,97.91 479.10,97.88 479.60,97.81 480.10,97.81 480.60,97.87 481.10,98.06 481.60,97.90 482.10,97.93 482.60,97.96 483.10,97.90 483.60,98.18 484.10,97.90 484.60,98.10 485.10,98.22 485.60,98.04 486.10,98.16 486.60,98.11 487.10,98.09 487.60,98.09 488.10,98.08 488.60,98.31 489.10,98.31 489.60,98.36 490.10,98.11 490.60,98.32 491.10,98.22 491.60,98.32 492.10,98.30 492.60,98.23 493.10,98.44 493.30,98.15 493.50,98.37 493.70,98.40 493.90,98.30 494.10,98.33 494.30,98.45 494.50,98.22 494.70,98.33 494.90,98.35 495.10,98.19 495.30,98.20 495.50,97.90 495.70,97.56 495.90,96.90 496.10,95.80 496.30,94.02 496.50,91.80 496.70,88.89 496.90,85.57 497.10,82.50 497.30,79.72 497.50,78.20 497.70,77.58 497.90,78.42 498.10,80.10 498.30,82.38 498.50,84.67 498.70,86.69 498.90,88.46 499.10,89.34 499.30,89.92 499.50,90.28 499.70,90.67 499.90,90.90 500.10,91.43 500.30,92.34 500.50,93.08 500.70,94.04 500.90,94.99 501.10,95.83 501.30,96.55 501.50,96.89 501.70,97.46 501.90,97.93 502.10,98.17 502.30,98.13 502.50,98.24 502.70,98.34 502.90,98.33 503.10,98.43 503.30,98.58 503.50,98.50 503.70,98.48 503.90,98.38 504.10,98.47 504.30,98.65 504.50,98.56 504.70,98.49 505.20,98.50 505.70,98.59 506.20,98.59 506.70,98.41 507.20,98.57 507.70,98.48 508.20,98.53 508.70,98.46 509.20,98.50 509.70,98.50 510.20,98.52 510.70,98.42 511.20,98.49 511.70,98.61 512.20,98.47 512.70,98.52 513.20,98.69 513.70,98.57 514.20,98.60 514.70,98.59 515.20,98.78 515.70,98.57 516.20,98.75 516.70,98.83 517.20,98.65 517.70,98.73 518.20,98.86 518.70,98.82 519.20,98.77 519.70,98.69 520.20,98.82 520.70,98.82 521.20,98.94 521.70,98.83 522.20,98.88 522.70,98.97 523.20,99.04 523.70,98.92 524.20,98.94 524.70,99.02 525.20,99.14 525.70,98.94 526.20,99.19 526.70,99.13 527.20,99.04 527.70,99.14 528.20,99.06 528.70,98.99 529.20,99.21 529.70,99.11 530.20,99.17 530.70,99.18 531.20,99.31 531.70,99.28 532.20,99.07 532.70,99.25 533.20,99.22 533.70,99.23 534.20,99.35 534.70,99.23 535.20,99.26 535.70,99.39 536.20,99.26 536.70,99.28 537.20,99.29 537.70,99.39 537.90,99.34 538.10,99.37 538.30,99.27 538.50,99.16 538.70,99.35 538.90,99.31 539.10,99.38 539.30,99.38 539.50,99.19 539.70,99.22 539.90,99.17 540.10,99.39 540.30,99.18 540.50,99.17 540.70,99.35 540.90,99.26 541.10,99.05 541.30,99.14 541.50,99.03 541.70,98.82 541.90,98.56 542.10,98.67 542.30,98.58 542.50,98.69 542.70,98.94 542.90,99.02 543.10,99.17 543.30,99.05 543.50,99.18 543.70,99.27 543.90,99.14 544.10,99.45 544.30,99.24 544.50,99.23 544.70,99.25 544.90,99.23 545.10,99.41 545.30,99.32 545.50,99.31 545.70,99.29 545.90,99.18 546.10,99.25 546.30,99.42 546.50,99.40 546.70,99.42 546.90,99.24 547.10,99.22 547.30,99.18 547.80,99.33 548.30,99.28 548.80,99.31 549.30,99.32 549.80,99.35 550.30,99.29 550.80,99.42 551.30,99.24 551.80,99.46 552.30,99.36 552.80,99.21 553.30,99.29 553.80,99.36 554.30,99.33 554.80,99.38 555.30,99.31 555.80,99.30 556.30,99.46 556.80,99.31 557.30,99.44 557.80,99.47 558.30,99.41 558.80,99.38 559.30,99.53 559.80,99.38 560.30,99.52 560.80,99.28 561.30,99.39 561.80,99.46 562.30,99.29 562.80,99.54 563.30,99.30 563.80,99.47 564.30,99.35 564.80,99.57 565.30,99.47 565.80,99.55 566.30,99.46 566.80,99.52 567.30,99.53 567.80,99.42 568.30,99.40 568.80,99.59 569.30,99.39 569.80,99.63 570.30,99.42 570.80,99.39 571.30,99.39 571.80,99.61 572.30,99.66 572.80,99.51 573.30,99.58 573.80,99.47 574.30,99.67 574.80,99.61 575.30,99.45 575.80,99.43 576.30,99.63 576.80,99.43 577.30,99.68 577.80,99.52 578.30,99.51 578.80,99.62 579.30,99.54 579.80,99.62 580.30,99.50 580.80,99.73 581.30,99.56 581.80,99.72 582.30,99.52 582.80,99.72 583.30,99.77 583.80,99.60 584.30,99.50 584.80,99.61 585.30,99.69 585.80,99.57 586.30,99.67 586.80,99.53 587.30,99.65 587.80,99.73 588.30,99.64 588.80,99.72 589.30,99.56 589.80,99.77 590.30,99.56 590.80,99.81 591.30,99.83 591.80,99.81 592.30,99.69 592.80,99.62 593.30,99.64 593.80,99.77 594.30,99.69 594.80,99.82 595.30,99.57 595.80,99.69 596.30,99.81 596.80,99.73 597.30,99.71 597.80,99.58 598.30,99.59 598.80,99.63 599.30,99.82 599.80,99.80 600.30,99.62 600.80,99.83 601.30,99.56 601.80,99.73 602.30,99.84 602.80,99.66 603.30,99.84 603.80,99.76 604.30,99.58 604.80,99.66 605.30,99.70 605.80,99.64 606.30,99.79 606.80,99.63 607.30,99.82 607.80,99.67 608.30,99.61 608.80,99.76 609.30,99.62 609.80,99.76 610.30,99.84 610.80,99.79 611.30,99.75 611.80,99.63 612.30,99.78 612.80,99.66 613.30,99.83 613.80,99.68 614.30,99.82 614.80,99.75 615.30,99.76 615.50,99.85 615.70,99.70 615.90,99.70 616.10,99.92 616.30,99.73 616.50,99.86 616.70,99.83 616.90,99.66 617.10,99.47 617.30,99.34 617.50,99.41 617.70,98.97 617.90,98.80 618.10,98.47 618.30,97.93 618.50,97.56 618.70,96.94 618.90,96.50 619.10,95.94 619.30,95.37 619.50,94.87 619.70,94.58 619.90,94.29 620.10,94.19 620.30,94.30 620.50,94.71 620.70,94.94 620.90,95.51 621.10,95.77 621.30,96.61 621.50,97.03 621.70,97.65 621.90,98.07 622.10,98.53 622.30,98.74 622.50,99.19 622.70,99.23 622.90,99.43 623.10,99.49 623.30,99.68 623.50,99.78 623.70,99.75 623.90,99.96 624.10,99.73 624.30,99.89 624.50,99.80 624.70,99.91 624.90,99.97 625.10,99.95 625.30,99.75 625.80,99.81 626.30,99.92 626.80,100.04 627.30,99.76 627.80,99.93 628.30,99.96 628.80,99.99 629.30,99.85 629.80,99.99 630.30,99.89 630.80,100.03 631.30,99.75 631.80,100.03 632.30,99.88 632.80,99.87 633.30,99.78 633.80,99.83 634.30,99.98 634.80,99.96 635.30,99.80 635.80,99.86 636.30,99.81 636.80,99.83 637.30,99.83 637.80,99.87 638.30,100.07 638.80,100.08 639.30,100.02 639.80,99.93 640.30,99.94 640.80,100.03 641.30,100.07 641.80,100.03 642.30,99.99 642.80,99.87 643.30,100.00 643.80,100.07 644.30,100.06 644.80,99.85 645.30,100.05 645.80,99.94 646.30,99.89 646.80,100.14 647.30,100.06 647.80,100.08 648.30,99.91 648.80,100.12 649.30,100.16 649.80,100.15 650.30,100.11 650.80,100.14 651.30,100.14 651.80,100.08 652.30,100.04 652.80,100.17 653.30,100.16 653.80,100.19 654.30,100.03 654.80,100.23 655.30,100.11 655.80,100.24 656.30,100.00 656.80,100.26 657.30,100.21 657.80,100.06 658.30,100.24 658.80,100.06 659.30,100.06 659.80,100.14 660.30,100.08 660.80,100.17 661.30,100.30 661.80,100.24 662.30,100.25 662.80,100.16 663.30,100.28 663.80,100.29 664.30,100.26 664.80,100.35 665.30,100.32 665.80,100.19 666.30,100.10 666.80,100.28 667.30,100.34 667.80,100.19 668.30,100.27 668.80,100.35 669.30,100.34 669.80,100.11 670.30,100.26 670.80,100.12 671.30,100.15 671.80,100.37 672.30,100.25 672.80,100.31 673.30,100.27 673.80,100.23 674.30,100.20 674.80,100.24 675.30,100.39 675.80,100.33 676.30,100.23 676.80,100.17 677.30,100.23 677.80,100.36 678.30,100.28 678.80,100.35 679.30,100.39 679.80,100.19" fill="none" stroke="#e6323b" stroke-width="1.1" stroke-linejoin="round"/>
<polyline points="373.60,149.05 374.10,148.86 374.60,149.10 375.10,148.91 375.60,148.94 376.10,149.15 376.60,148.97 377.10,148.94 377.60,149.15 378.10,149.07 378.60,149.16 379.10,149.02 379.60,149.06 380.10,149.21 380.60,149.09 381.10,149.24 381.60,149.01 382.10,149.22 382.60,149.03 383.10,149.15 383.60,149.01 384.10,149.08 384.60,149.32 385.10,149.19 385.60,149.31 386.10,149.16 386.60,149.20 387.10,149.14 387.60,149.29 388.10,149.40 388.60,149.31 389.10,149.29 389.60,149.47 390.10,149.47 390.60,149.42 391.10,149.25 391.60,149.43 392.10,149.39 392.60,149.55 393.10,149.38 393.60,149.48 394.10,149.49 394.60,149.42 395.10,149.47 395.60,149.52 396.10,149.60 396.60,149.48 397.10,149.45 397.60,149.64 398.10,149.36 398.60,149.60 399.10,149.55 399.60,149.52 400.10,149.49 400.60,149.58 401.10,149.64 401.60,149.61 402.10,149.63 402.60,149.44 403.10,149.56 403.60,149.54 404.10,149.82 404.60,149.84 405.10,149.65 405.60,149.83 406.10,149.87 406.60,149.75 407.10,149.89 407.60,150.04 408.10,150.05 408.60,149.98 409.10,150.16 409.60,150.04 410.10,150.15 410.60,150.13 411.10,150.32 411.60,150.23 412.10,150.29 412.60,150.25 413.10,150.17 413.60,150.35 414.10,150.28 414.60,150.29 415.10,150.18 415.60,150.17 416.10,150.32 416.60,150.43 417.10,150.46 417.60,150.36 418.10,150.34 418.60,150.50 419.10,150.66 419.60,150.49 420.10,150.72 420.60,150.61 421.10,150.71 421.60,150.69 422.10,150.82 422.60,150.91 423.10,151.15 423.60,151.21 424.10,151.04 424.60,151.14 425.10,151.40 425.60,151.23 426.10,151.33 426.60,151.43 427.10,151.39 427.60,151.49 428.10,151.58 428.60,151.63 429.10,151.85 429.60,151.69 430.10,151.71 430.60,151.96 431.10,151.86 431.60,152.00 432.10,151.97 432.60,152.04 433.10,151.91 433.60,151.88 434.10,152.07 434.60,151.99 435.10,152.02 435.60,152.06 436.10,152.09 436.60,151.97 437.10,152.02 437.60,152.21 438.10,152.13 438.60,152.10 439.10,152.25 439.60,152.18 440.10,152.39 440.60,152.23 441.10,152.52 441.60,152.50 442.10,152.50 442.60,152.73 443.10,152.59 443.60,152.65 444.10,152.65 444.60,152.86 445.10,152.97 445.60,153.00 446.10,152.97 446.60,153.13 447.10,152.96 447.60,153.06 448.10,153.19 448.60,153.31 449.10,153.22 449.60,153.25 450.10,153.28 450.60,153.17 451.10,153.34 451.60,153.29 452.10,153.18 452.60,153.21 453.10,153.35 453.60,153.23 454.10,153.20 454.60,153.43 455.10,153.36 455.60,153.38 456.10,153.46 456.60,153.56 457.10,153.36 457.60,153.46 458.10,153.41 458.60,153.54 459.10,153.60 459.60,153.74 460.10,153.71 460.60,153.71 461.10,153.68 461.60,153.75 462.10,153.68 462.60,153.87 463.10,153.87 463.60,153.89 464.10,153.69 464.60,153.85 465.10,153.88 465.60,153.80 466.10,153.93 466.60,153.94 467.10,153.90 467.60,153.94 468.10,153.90 468.60,153.99 469.10,153.78 469.60,153.97 470.10,153.99 470.60,153.99 471.10,153.91 471.60,153.88 472.10,154.06 472.60,154.15 473.10,154.01 473.60,154.02 474.10,154.05 474.60,154.03 475.10,154.23 475.60,154.34 476.10,154.31 476.60,154.19 477.10,154.31 477.60,154.14 478.10,154.38 478.60,154.24 479.10,154.15 479.60,154.34 480.10,154.19 480.60,154.23 481.10,154.17 481.60,154.28 482.10,154.32 482.60,154.39 483.10,154.16 483.60,154.40 484.10,154.18 484.60,154.22 485.10,154.34 485.60,154.25 486.10,154.25 486.60,154.32 487.10,154.22 487.60,154.39 488.10,154.21 488.60,154.40 489.10,154.39 489.60,154.31 490.10,154.16 490.60,154.38 491.10,154.16 491.60,154.31 492.10,154.29 492.60,154.19 492.80,154.37 493.00,154.40 493.20,154.36 493.40,154.31 493.60,154.35 493.80,154.37 494.00,154.27 494.20,154.45 494.40,154.46 494.60,154.33 494.80,154.19 495.00,153.60 495.20,153.02 495.40,151.33 495.60,149.09 495.80,145.38 496.00,140.44 496.20,134.13 496.40,126.86 496.60,119.49 496.80,113.26 497.00,109.24 497.20,108.34 497.40,110.55 497.60,115.53 497.80,122.49 498.00,129.85 498.20,136.83 498.40,142.64 498.60,147.26 498.80,150.20 499.00,152.17 499.20,153.40 499.40,154.05 499.60,154.44 499.80,154.52 500.00,154.64 500.20,154.66 500.40,154.62 500.60,154.62 500.80,154.43 501.00,154.48 501.20,154.43 501.40,154.69 501.60,154.65 501.80,154.62 502.00,154.52 502.20,154.55 502.70,154.49 503.20,154.64 503.70,154.75 504.20,154.54 504.70,154.46 505.20,154.51 505.70,154.56 506.20,154.73 506.70,154.71 507.20,154.61 507.70,154.51 508.20,154.52 508.70,154.54 509.20,154.74 509.70,154.65 510.20,154.82 510.70,154.81 511.20,154.79 511.70,154.70 512.20,154.82 512.70,154.63 513.20,154.64 513.70,154.79 514.20,154.79 514.70,154.72 515.20,154.75 515.70,154.70 516.20,154.98 516.70,154.94 517.20,155.03 517.70,155.06 518.20,154.92 518.70,155.03 519.20,154.95 519.70,155.10 520.20,155.13 520.70,154.94 521.20,154.92 521.70,155.00 522.20,155.14 522.70,155.10 523.20,155.01 523.70,155.28 524.20,155.28 524.70,155.21 525.20,155.10 525.70,155.38 526.20,155.29 526.70,155.17 527.20,155.27 527.70,155.38 528.20,155.48 528.70,155.37 529.20,155.44 529.70,155.33 530.20,155.35 530.70,155.57 531.20,155.43 531.70,155.36 532.20,155.52 532.70,155.39 533.20,155.43 533.70,155.51 534.20,155.56 534.70,155.59 535.20,155.62 535.70,155.55 536.20,155.44 536.70,155.65 537.20,155.45 537.70,155.58 538.20,155.56 538.70,155.65 539.20,155.66 539.70,155.52 540.20,155.64 540.70,155.66 541.20,155.59 541.70,155.49 542.20,155.72 542.70,155.63 543.20,155.47 543.70,155.53 544.20,155.75 544.70,155.53 545.20,155.58 545.70,155.70 546.20,155.71 546.70,155.66 547.20,155.69 547.70,155.49 548.20,155.51 548.70,155.77 549.20,155.73 549.70,155.50 550.20,155.51 550.70,155.57 551.20,155.78 551.70,155.57 552.20,155.71 552.70,155.79 553.20,155.71 553.70,155.80 554.20,155.61 554.70,155.58 555.20,155.55 555.70,155.77 556.20,155.58 556.70,155.85 557.20,155.78 557.70,155.63 558.20,155.82 558.70,155.63 559.20,155.74 559.70,155.63 560.20,155.84 560.70,155.88 561.20,155.89 561.70,155.63 562.20,155.89 562.70,155.81 563.20,155.89 563.70,155.81 564.20,155.85 564.70,155.85 565.20,155.92 565.70,155.71 566.20,155.71 566.70,155.86 567.20,155.80 567.70,155.84 568.20,155.73 568.70,155.96 569.20,155.75 569.70,156.00 570.20,156.00 570.70,155.90 571.20,155.81 571.70,155.97 572.20,155.85 572.70,155.92 573.20,155.84 573.70,156.10 574.20,155.98 574.70,155.93 575.20,155.86 575.70,156.06 576.20,156.10 576.70,156.11 577.20,155.89 577.70,155.98 578.20,155.97 578.70,156.11 579.20,155.94 579.70,156.08 580.20,156.20 580.70,156.14 581.20,155.92 581.70,155.95 582.20,155.97 582.70,156.15 583.20,156.12 583.70,156.11 584.20,156.09 584.70,156.08 585.20,156.15 585.70,156.17 586.20,156.25 586.70,156.20 587.20,156.23 587.70,156.27 588.20,156.25 588.70,156.22 589.20,156.01 589.70,156.21 590.20,156.27 590.70,156.15 591.20,156.28 591.70,156.08 592.20,156.31 592.70,156.16 593.20,156.24 593.70,156.11 594.20,156.13 594.70,156.14 595.20,156.14 595.70,156.07 596.20,156.18 596.70,156.34 597.20,156.24 597.70,156.33 598.20,156.28 598.70,156.30 599.20,156.35 599.70,156.28 600.20,156.13 600.70,156.13 601.20,156.18 601.70,156.06 602.20,156.12 602.70,156.32 603.20,156.34 603.70,156.16 604.20,156.30 604.70,156.30 605.20,156.34 605.70,156.32 606.20,156.24 606.70,156.12 607.20,156.34 607.70,156.19 608.20,156.29 608.70,156.22 609.20,156.28 609.70,156.41 610.20,156.18 610.70,156.29 611.20,156.34 611.70,156.31 612.20,156.44 612.70,156.29 613.20,156.45 613.70,156.39 614.20,156.48 614.70,156.22 615.20,156.27 615.70,156.30 615.90,156.49 616.10,156.22 616.30,156.30 616.50,156.44 616.70,156.52 616.90,156.28 617.10,156.36 617.30,156.43 617.50,156.42 617.70,156.39 617.90,156.31 618.10,155.98 618.30,155.65 618.50,154.99 618.70,154.23 618.90,152.62 619.10,150.58 619.30,148.15 619.50,144.92 619.70,141.57 619.90,138.45 620.10,135.96 620.30,134.58 620.50,134.37 620.70,135.55 620.90,137.92 621.10,140.99 621.30,144.43 621.50,147.54 621.70,150.26 621.90,152.51 622.10,154.19 622.30,155.14 622.50,155.65 622.70,156.16 622.90,156.19 623.10,156.26 623.30,156.37 623.50,156.42 623.70,156.52 623.90,156.45 624.10,156.54 624.30,156.35 624.50,156.60 624.70,156.43 624.90,156.58 625.10,156.34 625.30,156.58 625.50,156.40 626.00,156.59 626.50,156.58 627.00,156.54 627.50,156.43 628.00,156.35 628.50,156.40 629.00,156.62 629.50,156.40 630.00,156.55 630.50,156.53 631.00,156.55 631.50,156.40 632.00,156.39 632.50,156.38 633.00,156.65 633.50,156.47 634.00,156.55 634.50,156.53 635.00,156.43 635.50,156.38 636.00,156.37 636.50,156.63 637.00,156.41 637.50,156.67 638.00,156.49 638.50,156.61 639.00,156.43 639.50,156.63 640.00,156.48 640.50,156.52 641.00,156.57 641.50,156.45 642.00,156.50 642.50,156.67 643.00,156.53 643.50,156.56 644.00,156.68 644.50,156.53 645.00,156.53 645.50,156.54 646.00,156.60 646.50,156.60 647.00,156.69 647.50,156.65 648.00,156.78 648.50,156.54 649.00,156.73 649.50,156.79 650.00,156.62 650.50,156.57 651.00,156.70 651.50,156.61 652.00,156.73 652.50,156.81 653.00,156.63 653.50,156.65 654.00,156.77 654.50,156.69 655.00,156.71 655.50,156.79 656.00,156.70 656.50,156.69 657.00,156.79 657.50,156.83 658.00,156.98 658.50,156.88 659.00,156.74 659.50,156.80 660.00,156.96 660.50,156.92 661.00,157.02 661.50,157.05 662.00,157.03 662.50,156.81 663.00,157.07 663.50,156.96 664.00,156.88 664.50,156.87 665.00,157.08 665.50,156.89 666.00,156.86 666.50,156.92 667.00,157.13 667.50,157.00 668.00,157.08 668.50,156.89 669.00,157.01 669.50,156.98 670.00,156.95 670.50,157.09 671.00,157.01 671.50,156.94 672.00,157.21 672.50,157.06 673.00,156.97 673.50,156.93 674.00,157.12 674.50,157.09 675.00,156.94 675.50,157.08 676.00,157.16 676.50,157.10 677.00,157.01 677.50,157.10 678.00,157.13 678.50,157.14 679.00,156.99 679.50,157.19 680.00,157.23" fill="none" stroke="#3c3c3c" stroke-width="1.1" stroke-linejoin="round"/>
<rect x="495.1" y="15.4" width="6.3" height="143.2" fill="rgb(208,190,236)" fill-opacity="0.43"/>
<rect x="616.8" y="15.4" width="6.8" height="143.2" fill="rgb(185,234,204)" fill-opacity="0.43"/>
<path d="M373.6,16 V159.0 H680.20" fill="none" stroke="#6a6a6a" stroke-width="1"/>
<line x1="373.60" y1="159.0" x2="373.60" y2="161.8" stroke="#6a6a6a" stroke-width="1"/>
<text x="373.60" y="170.8" font-size="9.4" text-anchor="middle" fill="#222" color="#222" >20</text>
<line x1="450.25" y1="159.0" x2="450.25" y2="161.8" stroke="#6a6a6a" stroke-width="1"/>
<text x="450.25" y="170.8" font-size="9.4" text-anchor="middle" fill="#222" color="#222" >30</text>
<line x1="526.90" y1="159.0" x2="526.90" y2="161.8" stroke="#6a6a6a" stroke-width="1"/>
<text x="526.90" y="170.8" font-size="9.4" text-anchor="middle" fill="#222" color="#222" >40</text>
<line x1="603.55" y1="159.0" x2="603.55" y2="161.8" stroke="#6a6a6a" stroke-width="1"/>
<text x="603.55" y="170.8" font-size="9.4" text-anchor="middle" fill="#222" color="#222" >50</text>
<line x1="680.20" y1="159.0" x2="680.20" y2="161.8" stroke="#6a6a6a" stroke-width="1"/>
<text x="680.20" y="170.8" font-size="9.4" text-anchor="middle" fill="#222" color="#222" >60</text>
<line x1="411.93" y1="159.0" x2="411.93" y2="160.5" stroke="#6a6a6a" stroke-width="1"/>
<line x1="488.58" y1="159.0" x2="488.58" y2="160.5" stroke="#6a6a6a" stroke-width="1"/>
<line x1="565.23" y1="159.0" x2="565.23" y2="160.5" stroke="#6a6a6a" stroke-width="1"/>
<line x1="641.88" y1="159.0" x2="641.88" y2="160.5" stroke="#6a6a6a" stroke-width="1"/>
<text x="527" y="185.6" font-size="9.4" text-anchor="middle" fill="#222" color="#222" >2 Theta (degree)</text>
<text x="0" y="0" font-size="9.4" text-anchor="middle" fill="#222" color="#222" transform="translate(364.0,87) rotate(-90)">Intensity (a.u.)</text>
<polygon points="498.70,33.50 499.34,35.22 501.17,35.30 499.74,36.44 500.23,38.20 498.70,37.19 497.17,38.20 497.66,36.44 496.23,35.30 498.06,35.22" fill="#b06ee3"/>
<text x="503.7" y="40.6" font-size="9.1" text-anchor="start" fill="#333" color="#333" >(110)</text>
<polygon points="621.30,37.80 621.92,39.45 623.68,39.53 622.30,40.62 622.77,42.32 621.30,41.35 619.83,42.32 620.30,40.62 618.92,39.53 620.68,39.45" fill="#47bf6a"/>
<text x="626.0" y="44.6" font-size="9.1" text-anchor="start" fill="#333" color="#333" >(200)</text>
<text x="660.4" y="63.0" font-size="9.2" text-anchor="start" fill="#222" color="#222" >2h</text>
<text x="660.6" y="98.6" font-size="9.2" text-anchor="start" fill="#222" color="#222" >1h</text>
<text x="660.2" y="155.8" font-size="9.2" text-anchor="start" fill="#222" color="#222" >0h</text>
<defs><radialGradient id="aC" cx="0.5" cy="0.5" r="0.5" fx="0.45" fy="0.4"><stop offset="0" stop-color="#c79a78"/><stop offset="0.5" stop-color="#8a5a3a"/><stop offset="1" stop-color="#5e3720"/></radialGradient><radialGradient id="aO" cx="0.5" cy="0.5" r="0.5" fx="0.45" fy="0.4"><stop offset="0" stop-color="#ff8080"/><stop offset="0.5" stop-color="#ee2424"/><stop offset="1" stop-color="#c01414"/></radialGradient><radialGradient id="aN" cx="0.5" cy="0.5" r="0.5" fx="0.45" fy="0.4"><stop offset="0" stop-color="#e8ecfa"/><stop offset="0.5" stop-color="#b0bce0"/><stop offset="1" stop-color="#8592c4"/></radialGradient></defs>
<text x="0" y="202.6" font-size="15.5" text-anchor="start" fill="#111" color="#111" >c</text>
<path d="M16.5,203.6 H486" fill="none" stroke="#3b4a70" stroke-width="1.15" stroke-dasharray="6.5 2.6 1.0 2.25 1.0 2.43" stroke-dashoffset="0"/>
<path d="M486,203.6 V356.4" fill="none" stroke="#3b4a70" stroke-width="1.15" stroke-dasharray="6.5 2.6 1.0 2.25 1.0 2.43" stroke-dashoffset="12.08"/>
<path d="M16.5,356.4 H486" fill="none" stroke="#3b4a70" stroke-width="1.15" stroke-dasharray="6.5 2.6 1.0 2.25 1.0 2.43" stroke-dashoffset="3.2"/>
<path d="M16.5,203.6 V356.4" fill="none" stroke="#3b4a70" stroke-width="1.15" stroke-dasharray="6.5 2.6 1.0 2.25 1.0 2.43" stroke-dashoffset="8.68"/>
<rect x="26.3" y="211" width="136.0" height="108.30000000000001" fill="none" stroke="#a8a8a8" stroke-width="0.9"/>
<circle cx="26.30" cy="301.50" r="4.0" fill="url(#li)"/>
<circle cx="48.97" cy="301.50" r="4.0" fill="url(#li)"/>
<circle cx="71.63" cy="301.50" r="4.0" fill="url(#li)"/>
<circle cx="94.30" cy="301.50" r="4.0" fill="url(#li)"/>
<circle cx="116.97" cy="301.50" r="4.0" fill="url(#li)"/>
<circle cx="139.63" cy="301.50" r="4.0" fill="url(#li)"/>
<circle cx="162.30" cy="301.50" r="4.0" fill="url(#li)"/>
<circle cx="37.63" cy="313.00" r="4.0" fill="url(#li)"/>
<circle cx="60.30" cy="313.00" r="4.0" fill="url(#li)"/>
<circle cx="82.97" cy="313.00" r="4.0" fill="url(#li)"/>
<circle cx="105.63" cy="313.00" r="4.0" fill="url(#li)"/>
<circle cx="128.30" cy="313.00" r="4.0" fill="url(#li)"/>
<circle cx="150.97" cy="313.00" r="4.0" fill="url(#li)"/>
<rect x="182" y="211" width="136.2" height="108.30000000000001" fill="none" stroke="#a8a8a8" stroke-width="0.9"/>
<circle cx="182.00" cy="301.50" r="4.0" fill="url(#li)"/>
<circle cx="204.70" cy="301.50" r="4.0" fill="url(#li)"/>
<circle cx="227.40" cy="301.50" r="4.0" fill="url(#li)"/>
<circle cx="250.10" cy="301.50" r="4.0" fill="url(#li)"/>
<circle cx="272.80" cy="301.50" r="4.0" fill="url(#li)"/>
<circle cx="295.50" cy="301.50" r="4.0" fill="url(#li)"/>
<circle cx="318.20" cy="301.50" r="4.0" fill="url(#li)"/>
<circle cx="193.35" cy="313.00" r="4.0" fill="url(#li)"/>
<circle cx="216.05" cy="313.00" r="4.0" fill="url(#li)"/>
<circle cx="238.75" cy="313.00" r="4.0" fill="url(#li)"/>
<circle cx="261.45" cy="313.00" r="4.0" fill="url(#li)"/>
<circle cx="284.15" cy="313.00" r="4.0" fill="url(#li)"/>
<circle cx="306.85" cy="313.00" r="4.0" fill="url(#li)"/>
<rect x="337.3" y="211" width="135.3" height="108.30000000000001" fill="none" stroke="#a8a8a8" stroke-width="0.9"/>
<circle cx="337.30" cy="301.50" r="4.0" fill="url(#li)"/>
<circle cx="359.85" cy="301.50" r="4.0" fill="url(#li)"/>
<circle cx="382.40" cy="301.50" r="4.0" fill="url(#li)"/>
<circle cx="404.95" cy="301.50" r="4.0" fill="url(#li)"/>
<circle cx="427.50" cy="301.50" r="4.0" fill="url(#li)"/>
<circle cx="450.05" cy="301.50" r="4.0" fill="url(#li)"/>
<circle cx="472.60" cy="301.50" r="4.0" fill="url(#li)"/>
<circle cx="348.57" cy="313.00" r="4.0" fill="url(#li)"/>
<circle cx="371.12" cy="313.00" r="4.0" fill="url(#li)"/>
<circle cx="393.68" cy="313.00" r="4.0" fill="url(#li)"/>
<circle cx="416.23" cy="313.00" r="4.0" fill="url(#li)"/>
<circle cx="438.77" cy="313.00" r="4.0" fill="url(#li)"/>
<circle cx="461.32" cy="313.00" r="4.0" fill="url(#li)"/>
<line x1="64.6" y1="275.5" x2="61.05" y2="272.75" stroke="#7d4f32" stroke-width="1.25"/>
<line x1="57.5" y1="270" x2="61.05" y2="272.75" stroke="#e8c8c8" stroke-width="1.25"/>
<line x1="64.6" y1="275.5" x2="62.90" y2="273.50" stroke="#7d4f32" stroke-width="1.25"/>
<line x1="61.2" y1="271.5" x2="62.90" y2="273.50" stroke="#e8c8c8" stroke-width="1.25"/>
<line x1="64.6" y1="275.5" x2="66.50" y2="272.45" stroke="#7d4f32" stroke-width="1.25"/>
<line x1="68.4" y1="269.4" x2="66.50" y2="272.45" stroke="#e8c8c8" stroke-width="1.25"/>
<line x1="64.6" y1="275.5" x2="69.70" y2="275.90" stroke="#7d4f32" stroke-width="1.25"/>
<line x1="74.8" y1="276.3" x2="69.70" y2="275.90" stroke="#7d4f32" stroke-width="1.25"/>
<line x1="74.8" y1="276.3" x2="76.10" y2="273.05" stroke="#7d4f32" stroke-width="1.25"/>
<line x1="77.4" y1="269.8" x2="76.10" y2="273.05" stroke="#e8c8c8" stroke-width="1.25"/>
<line x1="74.8" y1="276.3" x2="76.20" y2="278.15" stroke="#7d4f32" stroke-width="1.25"/>
<line x1="77.6" y1="280" x2="76.20" y2="278.15" stroke="#7d4f32" stroke-width="1.25"/>
<line x1="77.6" y1="280" x2="78.10" y2="277.40" stroke="#7d4f32" stroke-width="1.25"/>
<line x1="78.6" y1="274.8" x2="78.10" y2="277.40" stroke="#e8c8c8" stroke-width="1.25"/>
<line x1="77.6" y1="280" x2="75.10" y2="281.60" stroke="#7d4f32" stroke-width="1.25"/>
<line x1="72.6" y1="283.2" x2="75.10" y2="281.60" stroke="#e8c8c8" stroke-width="1.25"/>
<line x1="77.6" y1="280" x2="81.00" y2="283.40" stroke="#7d4f32" stroke-width="1.25"/>
<line x1="84.4" y1="286.8" x2="81.00" y2="283.40" stroke="#7d4f32" stroke-width="1.25"/>
<line x1="84.4" y1="286.8" x2="83.70" y2="290.80" stroke="#7d4f32" stroke-width="1.25"/>
<line x1="83" y1="294.8" x2="83.70" y2="290.80" stroke="#e4222a" stroke-width="1.25"/>
<line x1="84.4" y1="286.8" x2="88.15" y2="285.75" stroke="#7d4f32" stroke-width="1.25"/>
<line x1="91.9" y1="284.7" x2="88.15" y2="285.75" stroke="#a9b5da" stroke-width="1.25"/>
<line x1="91.9" y1="284.7" x2="93.55" y2="284.70" stroke="#a9b5da" stroke-width="1.25"/>
<line x1="95.2" y1="284.7" x2="93.55" y2="284.70" stroke="#a9b5da" stroke-width="1.25"/>
<line x1="95.2" y1="284.7" x2="95.65" y2="281.75" stroke="#a9b5da" stroke-width="1.25"/>
<line x1="96.1" y1="278.8" x2="95.65" y2="281.75" stroke="#7d4f32" stroke-width="1.25"/>
<line x1="96.1" y1="278.8" x2="94.00" y2="275.90" stroke="#7d4f32" stroke-width="1.25"/>
<line x1="91.9" y1="273" x2="94.00" y2="275.90" stroke="#e8c8c8" stroke-width="1.25"/>
<line x1="96.1" y1="278.8" x2="98.25" y2="278.10" stroke="#7d4f32" stroke-width="1.25"/>
<line x1="100.4" y1="277.4" x2="98.25" y2="278.10" stroke="#e8c8c8" stroke-width="1.25"/>
<line x1="95.2" y1="284.7" x2="98.95" y2="285.55" stroke="#a9b5da" stroke-width="1.25"/>
<line x1="102.7" y1="286.4" x2="98.95" y2="285.55" stroke="#7d4f32" stroke-width="1.25"/>
<line x1="102.7" y1="286.4" x2="103.65" y2="290.00" stroke="#7d4f32" stroke-width="1.25"/>
<line x1="104.6" y1="293.6" x2="103.65" y2="290.00" stroke="#e4222a" stroke-width="1.25"/>
<line x1="102.7" y1="286.4" x2="104.85" y2="282.60" stroke="#7d4f32" stroke-width="1.25"/>
<line x1="107" y1="278.8" x2="104.85" y2="282.60" stroke="#7d4f32" stroke-width="1.25"/>
<line x1="107" y1="278.8" x2="104.70" y2="276.40" stroke="#7d4f32" stroke-width="1.25"/>
<line x1="102.4" y1="274" x2="104.70" y2="276.40" stroke="#e8c8c8" stroke-width="1.25"/>
<line x1="107" y1="278.8" x2="108.20" y2="280.15" stroke="#7d4f32" stroke-width="1.25"/>
<line x1="109.4" y1="281.5" x2="108.20" y2="280.15" stroke="#e8c8c8" stroke-width="1.25"/>
<line x1="107" y1="278.8" x2="110.55" y2="276.35" stroke="#7d4f32" stroke-width="1.25"/>
<line x1="114.1" y1="273.9" x2="110.55" y2="276.35" stroke="#7d4f32" stroke-width="1.25"/>
<line x1="114.1" y1="273.9" x2="113.40" y2="270.50" stroke="#7d4f32" stroke-width="1.25"/>
<line x1="112.7" y1="267.1" x2="113.40" y2="270.50" stroke="#e8c8c8" stroke-width="1.25"/>
<line x1="114.1" y1="273.9" x2="114.55" y2="275.70" stroke="#7d4f32" stroke-width="1.25"/>
<line x1="115" y1="277.5" x2="114.55" y2="275.70" stroke="#e8c8c8" stroke-width="1.25"/>
<line x1="114.1" y1="273.9" x2="118.80" y2="274.20" stroke="#7d4f32" stroke-width="1.25"/>
<line x1="123.5" y1="274.5" x2="118.80" y2="274.20" stroke="#7d4f32" stroke-width="1.25"/>
<line x1="123.5" y1="274.5" x2="123.40" y2="272.05" stroke="#7d4f32" stroke-width="1.25"/>
<line x1="123.3" y1="269.6" x2="123.40" y2="272.05" stroke="#e8c8c8" stroke-width="1.25"/>
<line x1="123.5" y1="274.5" x2="127.30" y2="274.10" stroke="#7d4f32" stroke-width="1.25"/>
<line x1="131.1" y1="273.7" x2="127.30" y2="274.10" stroke="#7d4f32" stroke-width="1.25"/>
<line x1="131.1" y1="273.7" x2="130.40" y2="271.55" stroke="#7d4f32" stroke-width="1.25"/>
<line x1="129.7" y1="269.4" x2="130.40" y2="271.55" stroke="#e8c8c8" stroke-width="1.25"/>
<line x1="131.1" y1="273.7" x2="134.05" y2="272.50" stroke="#7d4f32" stroke-width="1.25"/>
<line x1="137" y1="271.3" x2="134.05" y2="272.50" stroke="#e8c8c8" stroke-width="1.25"/>
<line x1="123.5" y1="274.5" x2="123.80" y2="278.90" stroke="#7d4f32" stroke-width="1.25"/>
<line x1="124.1" y1="283.3" x2="123.80" y2="278.90" stroke="#e4222a" stroke-width="1.25"/>
<line x1="131.1" y1="273.7" x2="131.80" y2="278.15" stroke="#7d4f32" stroke-width="1.25"/>
<line x1="132.5" y1="282.6" x2="131.80" y2="278.15" stroke="#e4222a" stroke-width="1.25"/>
<line x1="124.1" y1="283.3" x2="126.40" y2="285.55" stroke="#e4222a" stroke-width="1.25"/>
<line x1="128.7" y1="287.8" x2="126.40" y2="285.55" stroke="#7d4f32" stroke-width="1.25"/>
<line x1="132.5" y1="282.6" x2="130.60" y2="285.20" stroke="#e4222a" stroke-width="1.25"/>
<line x1="128.7" y1="287.8" x2="130.60" y2="285.20" stroke="#7d4f32" stroke-width="1.25"/>
<line x1="128.7" y1="287.8" x2="128.70" y2="291.85" stroke="#7d4f32" stroke-width="1.25"/>
<line x1="128.7" y1="295.9" x2="128.70" y2="291.85" stroke="#e4222a" stroke-width="1.25"/>
<line x1="64.6" y1="275.5" x2="63.90" y2="278.65" stroke="#7d4f32" stroke-width="1.25"/>
<line x1="63.2" y1="281.8" x2="63.90" y2="278.65" stroke="#e4222a" stroke-width="1.25"/>
<line x1="63.2" y1="281.8" x2="62.50" y2="283.40" stroke="#e4222a" stroke-width="1.25"/>
<line x1="61.8" y1="285" x2="62.50" y2="283.40" stroke="#e4222a" stroke-width="1.25"/>
<line x1="61.8" y1="285" x2="61.55" y2="286.70" stroke="#e4222a" stroke-width="1.25"/>
<line x1="61.3" y1="288.4" x2="61.55" y2="286.70" stroke="#7d4f32" stroke-width="1.25"/>
<line x1="61.3" y1="288.4" x2="60.85" y2="292.00" stroke="#7d4f32" stroke-width="1.25"/>
<line x1="60.4" y1="295.6" x2="60.85" y2="292.00" stroke="#e4222a" stroke-width="1.25"/>
<line x1="128.7" y1="295.9" x2="132.78" y2="297.96" stroke="#e4222a" stroke-width="1.25"/>
<line x1="132.78" y1="297.96" x2="136.85371798162973" y2="300.01358745019155" stroke="#86d06e" stroke-width="1.25"/>
<circle cx="57.5" cy="270" r="1.35" fill="#f4dede" stroke="#c99e9e" stroke-width="0.6"/>
<circle cx="61.2" cy="271.5" r="1.35" fill="#f4dede" stroke="#c99e9e" stroke-width="0.6"/>
<circle cx="68.4" cy="269.4" r="1.35" fill="#f4dede" stroke="#c99e9e" stroke-width="0.6"/>
<circle cx="77.4" cy="269.8" r="1.35" fill="#f4dede" stroke="#c99e9e" stroke-width="0.6"/>
<circle cx="78.6" cy="274.8" r="1.35" fill="#f4dede" stroke="#c99e9e" stroke-width="0.6"/>
<circle cx="72.6" cy="283.2" r="1.35" fill="#f4dede" stroke="#c99e9e" stroke-width="0.6"/>
<circle cx="91.9" cy="273" r="1.35" fill="#f4dede" stroke="#c99e9e" stroke-width="0.6"/>
<circle cx="100.4" cy="277.4" r="1.35" fill="#f4dede" stroke="#c99e9e" stroke-width="0.6"/>
<circle cx="102.4" cy="274" r="1.35" fill="#f4dede" stroke="#c99e9e" stroke-width="0.6"/>
<circle cx="109.4" cy="281.5" r="1.35" fill="#f4dede" stroke="#c99e9e" stroke-width="0.6"/>
<circle cx="112.7" cy="267.1" r="1.35" fill="#f4dede" stroke="#c99e9e" stroke-width="0.6"/>
<circle cx="115" cy="277.5" r="1.35" fill="#f4dede" stroke="#c99e9e" stroke-width="0.6"/>
<circle cx="123.3" cy="269.6" r="1.35" fill="#f4dede" stroke="#c99e9e" stroke-width="0.6"/>
<circle cx="129.7" cy="269.4" r="1.35" fill="#f4dede" stroke="#c99e9e" stroke-width="0.6"/>
<circle cx="137" cy="271.3" r="1.35" fill="#f4dede" stroke="#c99e9e" stroke-width="0.6"/>
<circle cx="64.6" cy="275.5" r="1.9" fill="url(#aC)"/>
<circle cx="74.8" cy="276.3" r="1.9" fill="url(#aC)"/>
<circle cx="77.6" cy="280" r="1.9" fill="url(#aC)"/>
<circle cx="84.4" cy="286.8" r="1.9" fill="url(#aC)"/>
<circle cx="91.9" cy="284.7" r="1.9" fill="url(#aN)"/>
<circle cx="95.2" cy="284.7" r="1.9" fill="url(#aN)"/>
<circle cx="96.1" cy="278.8" r="1.9" fill="url(#aC)"/>
<circle cx="102.7" cy="286.4" r="1.9" fill="url(#aC)"/>
<circle cx="107" cy="278.8" r="1.9" fill="url(#aC)"/>
<circle cx="114.1" cy="273.9" r="1.9" fill="url(#aC)"/>
<circle cx="123.5" cy="274.5" r="1.9" fill="url(#aC)"/>
<circle cx="131.1" cy="273.7" r="1.9" fill="url(#aC)"/>
<circle cx="128.7" cy="287.8" r="1.9" fill="url(#aC)"/>
<circle cx="61.3" cy="288.4" r="1.9" fill="url(#aC)"/>
<circle cx="83" cy="294.8" r="2.1" fill="url(#aO)"/>
<circle cx="104.6" cy="293.6" r="2.1" fill="url(#aO)"/>
<circle cx="124.1" cy="283.3" r="2.1" fill="url(#aO)"/>
<circle cx="132.5" cy="282.6" r="2.1" fill="url(#aO)"/>
<circle cx="128.7" cy="295.9" r="2.1" fill="url(#aO)"/>
<circle cx="63.2" cy="281.8" r="2.1" fill="url(#aO)"/>
<circle cx="61.8" cy="285" r="2.1" fill="url(#aO)"/>
<circle cx="60.4" cy="295.6" r="2.1" fill="url(#aO)"/>
<line x1="236.8" y1="284.5" x2="234.25" y2="282.50" stroke="#7d4f32" stroke-width="1.25"/>
<line x1="231.7" y1="280.5" x2="234.25" y2="282.50" stroke="#e8c8c8" stroke-width="1.25"/>
<line x1="236.8" y1="284.5" x2="235.60" y2="286.25" stroke="#7d4f32" stroke-width="1.25"/>
<line x1="234.4" y1="288" x2="235.60" y2="286.25" stroke="#e8c8c8" stroke-width="1.25"/>
<line x1="236.8" y1="284.5" x2="237.95" y2="287.85" stroke="#7d4f32" stroke-width="1.25"/>
<line x1="239.1" y1="291.2" x2="237.95" y2="287.85" stroke="#e4222a" stroke-width="1.25"/>
<line x1="242.5" y1="285.5" x2="240.75" y2="282.40" stroke="#7d4f32" stroke-width="1.25"/>
<line x1="239" y1="279.3" x2="240.75" y2="282.40" stroke="#e8c8c8" stroke-width="1.25"/>
<line x1="242.5" y1="285.5" x2="242.55" y2="282.85" stroke="#7d4f32" stroke-width="1.25"/>
<line x1="242.6" y1="280.2" x2="242.55" y2="282.85" stroke="#e8c8c8" stroke-width="1.25"/>
<line x1="242.5" y1="285.5" x2="240.80" y2="288.35" stroke="#7d4f32" stroke-width="1.25"/>
<line x1="239.1" y1="291.2" x2="240.80" y2="288.35" stroke="#e4222a" stroke-width="1.25"/>
<line x1="242.5" y1="285.5" x2="247.10" y2="284.50" stroke="#7d4f32" stroke-width="1.25"/>
<line x1="251.7" y1="283.5" x2="247.10" y2="284.50" stroke="#7d4f32" stroke-width="1.25"/>
<line x1="251.7" y1="283.5" x2="252.15" y2="281.25" stroke="#7d4f32" stroke-width="1.25"/>
<line x1="252.6" y1="279" x2="252.15" y2="281.25" stroke="#e8c8c8" stroke-width="1.25"/>
<line x1="251.7" y1="283.5" x2="254.85" y2="286.80" stroke="#7d4f32" stroke-width="1.25"/>
<line x1="258" y1="290.1" x2="254.85" y2="286.80" stroke="#e4222a" stroke-width="1.25"/>
<line x1="258" y1="290.1" x2="261.85" y2="287.30" stroke="#e4222a" stroke-width="1.25"/>
<line x1="265.7" y1="284.5" x2="261.85" y2="287.30" stroke="#7d4f32" stroke-width="1.25"/>
<line x1="265.7" y1="284.5" x2="265.70" y2="282.25" stroke="#7d4f32" stroke-width="1.25"/>
<line x1="265.7" y1="280" x2="265.70" y2="282.25" stroke="#e8c8c8" stroke-width="1.25"/>
<line x1="265.7" y1="284.5" x2="268.50" y2="286.25" stroke="#7d4f32" stroke-width="1.25"/>
<line x1="271.3" y1="288" x2="268.50" y2="286.25" stroke="#e8c8c8" stroke-width="1.25"/>
<line x1="239.1" y1="291.2" x2="234.44" y2="295.26" stroke="#e4222a" stroke-width="1.25"/>
<line x1="234.44" y1="295.26" x2="229.78611158748333" y2="299.3299195465188" stroke="#86d06e" stroke-width="1.25"/>
<line x1="239.1" y1="291.2" x2="243.31" y2="295.21" stroke="#e4222a" stroke-width="1.25"/>
<line x1="243.31" y1="295.21" x2="247.51192293969083" y2="299.22248206285326" stroke="#86d06e" stroke-width="1.25"/>
<circle cx="231.7" cy="280.5" r="1.35" fill="#f4dede" stroke="#c99e9e" stroke-width="0.6"/>
<circle cx="234.4" cy="288" r="1.35" fill="#f4dede" stroke="#c99e9e" stroke-width="0.6"/>
<circle cx="239" cy="279.3" r="1.35" fill="#f4dede" stroke="#c99e9e" stroke-width="0.6"/>
<circle cx="242.6" cy="280.2" r="1.35" fill="#f4dede" stroke="#c99e9e" stroke-width="0.6"/>
<circle cx="252.6" cy="279" r="1.35" fill="#f4dede" stroke="#c99e9e" stroke-width="0.6"/>
<circle cx="265.7" cy="280" r="1.35" fill="#f4dede" stroke="#c99e9e" stroke-width="0.6"/>
<circle cx="271.3" cy="288" r="1.35" fill="#f4dede" stroke="#c99e9e" stroke-width="0.6"/>
<circle cx="236.8" cy="284.5" r="1.9" fill="url(#aC)"/>
<circle cx="242.5" cy="285.5" r="1.9" fill="url(#aC)"/>
<circle cx="251.7" cy="283.5" r="1.9" fill="url(#aC)"/>
<circle cx="265.7" cy="284.5" r="1.9" fill="url(#aC)"/>
<circle cx="239.1" cy="291.2" r="2.1" fill="url(#aO)"/>
<circle cx="258" cy="290.1" r="2.1" fill="url(#aO)"/>
<line x1="410.8" y1="274.2" x2="415.55" y2="273.90" stroke="#7d4f32" stroke-width="1.25"/>
<line x1="420.3" y1="273.6" x2="415.55" y2="273.90" stroke="#7d4f32" stroke-width="1.25"/>
<line x1="410.8" y1="274.2" x2="409.60" y2="278.65" stroke="#7d4f32" stroke-width="1.25"/>
<line x1="408.4" y1="283.1" x2="409.60" y2="278.65" stroke="#e4222a" stroke-width="1.25"/>
<line x1="420.3" y1="273.6" x2="421.70" y2="278.15" stroke="#7d4f32" stroke-width="1.25"/>
<line x1="423.1" y1="282.7" x2="421.70" y2="278.15" stroke="#e4222a" stroke-width="1.25"/>
<line x1="408.4" y1="283.1" x2="412.15" y2="285.35" stroke="#e4222a" stroke-width="1.25"/>
<line x1="415.9" y1="287.6" x2="412.15" y2="285.35" stroke="#7d4f32" stroke-width="1.25"/>
<line x1="423.1" y1="282.7" x2="419.50" y2="285.15" stroke="#e4222a" stroke-width="1.25"/>
<line x1="415.9" y1="287.6" x2="419.50" y2="285.15" stroke="#7d4f32" stroke-width="1.25"/>
<line x1="415.9" y1="287.6" x2="416.00" y2="291.40" stroke="#7d4f32" stroke-width="1.25"/>
<line x1="416.1" y1="295.2" x2="416.00" y2="291.40" stroke="#e4222a" stroke-width="1.25"/>
<line x1="410.8" y1="274.2" x2="409.50" y2="272.25" stroke="#7d4f32" stroke-width="1.25"/>
<line x1="408.2" y1="270.3" x2="409.50" y2="272.25" stroke="#7d4f32" stroke-width="1.25"/>
<line x1="408.2" y1="270.3" x2="406.65" y2="267.25" stroke="#7d4f32" stroke-width="1.25"/>
<line x1="405.1" y1="264.2" x2="406.65" y2="267.25" stroke="#e8c8c8" stroke-width="1.25"/>
<line x1="408.2" y1="270.3" x2="406.15" y2="272.65" stroke="#7d4f32" stroke-width="1.25"/>
<line x1="404.1" y1="275" x2="406.15" y2="272.65" stroke="#e8c8c8" stroke-width="1.25"/>
<line x1="420.3" y1="273.6" x2="421.90" y2="271.75" stroke="#7d4f32" stroke-width="1.25"/>
<line x1="423.5" y1="269.9" x2="421.90" y2="271.75" stroke="#e8c8c8" stroke-width="1.25"/>
<line x1="408.2" y1="270.3" x2="411.10" y2="270.10" stroke="#7d4f32" stroke-width="1.25"/>
<line x1="414" y1="269.9" x2="411.10" y2="270.10" stroke="#e8c8c8" stroke-width="1.25"/>
<circle cx="405.1" cy="264.2" r="1.35" fill="#f4dede" stroke="#c99e9e" stroke-width="0.6"/>
<circle cx="404.1" cy="275" r="1.35" fill="#f4dede" stroke="#c99e9e" stroke-width="0.6"/>
<circle cx="423.5" cy="269.9" r="1.35" fill="#f4dede" stroke="#c99e9e" stroke-width="0.6"/>
<circle cx="414" cy="269.9" r="1.35" fill="#f4dede" stroke="#c99e9e" stroke-width="0.6"/>
<circle cx="410.8" cy="274.2" r="1.9" fill="url(#aC)"/>
<circle cx="420.3" cy="273.6" r="1.9" fill="url(#aC)"/>
<circle cx="415.9" cy="287.6" r="1.9" fill="url(#aC)"/>
<circle cx="408.2" cy="270.3" r="1.9" fill="url(#aC)"/>
<circle cx="408.4" cy="283.1" r="2.1" fill="url(#aO)"/>
<circle cx="423.1" cy="282.7" r="2.1" fill="url(#aO)"/>
<circle cx="416.1" cy="295.2" r="2.1" fill="url(#aO)"/>
<text x="91.1" y="339.7" font-size="15.8" text-anchor="middle" fill="#111" color="#111" >PVM-Li(200)</text>
<text x="250" y="339.7" font-size="15.8" text-anchor="middle" fill="#111" color="#111" >DME-Li(200)</text>
<text x="414.6" y="339.7" font-size="15.8" text-anchor="middle" fill="#111" color="#111" >PC-Li(200)</text>
<line x1="481.5" y1="349.8" x2="481.5" y2="335" stroke="#1010ee" stroke-width="1.3"/>
<polygon points="481.5,330.3 479.4,336 483.6,336" fill="#1010ee"/>
<line x1="481.5" y1="349.8" x2="467" y2="349.8" stroke="#30e020" stroke-width="1.3"/>
<polygon points="462.3,349.8 468,347.7 468,351.9" fill="#30e020"/>
<circle cx="481.5" cy="349.8" r="1.5" fill="#f4f4f4" stroke="#888" stroke-width="0.5"/>
<text x="481.7" y="328.4" font-size="4.5" text-anchor="middle" fill="#333" color="#333" font-weight="bold">c</text>
<text x="457.6" y="351.3" font-size="4.5" text-anchor="middle" fill="#333" color="#333" font-weight="bold">b</text>
<text x="0" y="374" font-size="15.5" text-anchor="start" fill="#111" color="#111" >e</text>
<path d="M16.5,373.5 H485.2" fill="none" stroke="#3b4a70" stroke-width="1.15" stroke-dasharray="6.5 2.6 1.0 2.25 1.0 2.43" stroke-dashoffset="0"/>
<path d="M485.2,373.5 V530" fill="none" stroke="#3b4a70" stroke-width="1.15" stroke-dasharray="6.5 2.6 1.0 2.25 1.0 2.43" stroke-dashoffset="11.7"/>
<path d="M16.5,530 H485.2" fill="none" stroke="#3b4a70" stroke-width="1.15" stroke-dasharray="6.5 2.6 1.0 2.25 1.0 2.43" stroke-dashoffset="3.2"/>
<path d="M16.5,373.5 V530" fill="none" stroke="#3b4a70" stroke-width="1.15" stroke-dasharray="6.5 2.6 1.0 2.25 1.0 2.43" stroke-dashoffset="2.9"/>
<rect x="44.2" y="387.3" width="95.60000000000001" height="112.30000000000001" fill="none" stroke="#a8a8a8" stroke-width="0.9"/>
<circle cx="44.20" cy="477.10" r="4.0" fill="url(#li)"/>
<circle cx="60.13" cy="477.10" r="4.0" fill="url(#li)"/>
<circle cx="76.07" cy="477.10" r="4.0" fill="url(#li)"/>
<circle cx="92.00" cy="477.10" r="4.0" fill="url(#li)"/>
<circle cx="107.93" cy="477.10" r="4.0" fill="url(#li)"/>
<circle cx="123.87" cy="477.10" r="4.0" fill="url(#li)"/>
<circle cx="139.80" cy="477.10" r="4.0" fill="url(#li)"/>
<circle cx="44.20" cy="493.30" r="4.0" fill="url(#li)"/>
<circle cx="60.13" cy="493.30" r="4.0" fill="url(#li)"/>
<circle cx="76.07" cy="493.30" r="4.0" fill="url(#li)"/>
<circle cx="92.00" cy="493.30" r="4.0" fill="url(#li)"/>
<circle cx="107.93" cy="493.30" r="4.0" fill="url(#li)"/>
<circle cx="123.87" cy="493.30" r="4.0" fill="url(#li)"/>
<circle cx="139.80" cy="493.30" r="4.0" fill="url(#li)"/>
<rect x="190.9" y="387.3" width="96.49999999999997" height="112.30000000000001" fill="none" stroke="#a8a8a8" stroke-width="0.9"/>
<circle cx="190.90" cy="477.10" r="4.0" fill="url(#li)"/>
<circle cx="206.98" cy="477.10" r="4.0" fill="url(#li)"/>
<circle cx="223.07" cy="477.10" r="4.0" fill="url(#li)"/>
<circle cx="239.15" cy="477.10" r="4.0" fill="url(#li)"/>
<circle cx="255.23" cy="477.10" r="4.0" fill="url(#li)"/>
<circle cx="271.32" cy="477.10" r="4.0" fill="url(#li)"/>
<circle cx="287.40" cy="477.10" r="4.0" fill="url(#li)"/>
<circle cx="190.90" cy="493.30" r="4.0" fill="url(#li)"/>
<circle cx="206.98" cy="493.30" r="4.0" fill="url(#li)"/>
<circle cx="223.07" cy="493.30" r="4.0" fill="url(#li)"/>
<circle cx="239.15" cy="493.30" r="4.0" fill="url(#li)"/>
<circle cx="255.23" cy="493.30" r="4.0" fill="url(#li)"/>
<circle cx="271.32" cy="493.30" r="4.0" fill="url(#li)"/>
<circle cx="287.40" cy="493.30" r="4.0" fill="url(#li)"/>
<rect x="325" y="387.3" width="96.19999999999999" height="112.30000000000001" fill="none" stroke="#a8a8a8" stroke-width="0.9"/>
<circle cx="325.00" cy="477.10" r="4.0" fill="url(#li)"/>
<circle cx="341.03" cy="477.10" r="4.0" fill="url(#li)"/>
<circle cx="357.07" cy="477.10" r="4.0" fill="url(#li)"/>
<circle cx="373.10" cy="477.10" r="4.0" fill="url(#li)"/>
<circle cx="389.13" cy="477.10" r="4.0" fill="url(#li)"/>
<circle cx="405.17" cy="477.10" r="4.0" fill="url(#li)"/>
<circle cx="421.20" cy="477.10" r="4.0" fill="url(#li)"/>
<circle cx="325.00" cy="493.30" r="4.0" fill="url(#li)"/>
<circle cx="341.03" cy="493.30" r="4.0" fill="url(#li)"/>
<circle cx="357.07" cy="493.30" r="4.0" fill="url(#li)"/>
<circle cx="373.10" cy="493.30" r="4.0" fill="url(#li)"/>
<circle cx="389.13" cy="493.30" r="4.0" fill="url(#li)"/>
<circle cx="405.17" cy="493.30" r="4.0" fill="url(#li)"/>
<circle cx="421.20" cy="493.30" r="4.0" fill="url(#li)"/>
<line x1="53.7" y1="446.2" x2="50.60" y2="444.95" stroke="#7d4f32" stroke-width="1.25"/>
<line x1="47.5" y1="443.7" x2="50.60" y2="444.95" stroke="#e8c8c8" stroke-width="1.25"/>
<line x1="53.7" y1="446.2" x2="52.25" y2="443.30" stroke="#7d4f32" stroke-width="1.25"/>
<line x1="50.8" y1="440.4" x2="52.25" y2="443.30" stroke="#e8c8c8" stroke-width="1.25"/>
<line x1="53.7" y1="446.2" x2="55.80" y2="445.15" stroke="#7d4f32" stroke-width="1.25"/>
<line x1="57.9" y1="444.1" x2="55.80" y2="445.15" stroke="#e8c8c8" stroke-width="1.25"/>
<line x1="53.7" y1="446.2" x2="59.00" y2="445.40" stroke="#7d4f32" stroke-width="1.25"/>
<line x1="64.3" y1="444.6" x2="59.00" y2="445.40" stroke="#7d4f32" stroke-width="1.25"/>
<line x1="64.3" y1="444.6" x2="64.40" y2="442.50" stroke="#7d4f32" stroke-width="1.25"/>
<line x1="64.5" y1="440.4" x2="64.40" y2="442.50" stroke="#e8c8c8" stroke-width="1.25"/>
<line x1="64.3" y1="444.6" x2="66.05" y2="442.95" stroke="#7d4f32" stroke-width="1.25"/>
<line x1="67.8" y1="441.3" x2="66.05" y2="442.95" stroke="#e8c8c8" stroke-width="1.25"/>
<line x1="64.3" y1="444.6" x2="66.85" y2="448.60" stroke="#7d4f32" stroke-width="1.25"/>
<line x1="69.4" y1="452.6" x2="66.85" y2="448.60" stroke="#7d4f32" stroke-width="1.25"/>
<line x1="69.4" y1="452.6" x2="67.40" y2="454.70" stroke="#7d4f32" stroke-width="1.25"/>
<line x1="65.4" y1="456.8" x2="67.40" y2="454.70" stroke="#e8c8c8" stroke-width="1.25"/>
<line x1="69.4" y1="452.6" x2="72.10" y2="450.70" stroke="#7d4f32" stroke-width="1.25"/>
<line x1="74.8" y1="448.8" x2="72.10" y2="450.70" stroke="#e8c8c8" stroke-width="1.25"/>
<line x1="69.4" y1="452.6" x2="71.40" y2="455.65" stroke="#7d4f32" stroke-width="1.25"/>
<line x1="73.4" y1="458.7" x2="71.40" y2="455.65" stroke="#7d4f32" stroke-width="1.25"/>
<line x1="73.4" y1="458.7" x2="72.45" y2="462.70" stroke="#7d4f32" stroke-width="1.25"/>
<line x1="71.5" y1="466.7" x2="72.45" y2="462.70" stroke="#e4222a" stroke-width="1.25"/>
<line x1="73.4" y1="458.7" x2="77.40" y2="457.75" stroke="#7d4f32" stroke-width="1.25"/>
<line x1="81.4" y1="456.8" x2="77.40" y2="457.75" stroke="#a9b5da" stroke-width="1.25"/>
<line x1="81.4" y1="456.8" x2="83.55" y2="457.05" stroke="#a9b5da" stroke-width="1.25"/>
<line x1="85.7" y1="457.3" x2="83.55" y2="457.05" stroke="#a9b5da" stroke-width="1.25"/>
<line x1="81.4" y1="456.8" x2="81.65" y2="454.00" stroke="#a9b5da" stroke-width="1.25"/>
<line x1="81.9" y1="451.2" x2="81.65" y2="454.00" stroke="#7d4f32" stroke-width="1.25"/>
<line x1="81.9" y1="451.2" x2="84.00" y2="448.35" stroke="#7d4f32" stroke-width="1.25"/>
<line x1="86.1" y1="445.5" x2="84.00" y2="448.35" stroke="#e8c8c8" stroke-width="1.25"/>
<line x1="81.9" y1="451.2" x2="84.00" y2="451.90" stroke="#7d4f32" stroke-width="1.25"/>
<line x1="86.1" y1="452.6" x2="84.00" y2="451.90" stroke="#e8c8c8" stroke-width="1.25"/>
<line x1="81.9" y1="451.2" x2="79.20" y2="449.70" stroke="#7d4f32" stroke-width="1.25"/>
<line x1="76.5" y1="448.2" x2="79.20" y2="449.70" stroke="#e8c8c8" stroke-width="1.25"/>
<line x1="85.7" y1="457.3" x2="89.80" y2="458.00" stroke="#a9b5da" stroke-width="1.25"/>
<line x1="93.9" y1="458.7" x2="89.80" y2="458.00" stroke="#7d4f32" stroke-width="1.25"/>
<line x1="93.9" y1="458.7" x2="94.85" y2="462.70" stroke="#7d4f32" stroke-width="1.25"/>
<line x1="95.8" y1="466.7" x2="94.85" y2="462.70" stroke="#e4222a" stroke-width="1.25"/>
<line x1="93.9" y1="458.7" x2="96.90" y2="455.25" stroke="#7d4f32" stroke-width="1.25"/>
<line x1="99.9" y1="451.8" x2="96.90" y2="455.25" stroke="#7d4f32" stroke-width="1.25"/>
<line x1="99.9" y1="451.8" x2="98.50" y2="448.90" stroke="#7d4f32" stroke-width="1.25"/>
<line x1="97.1" y1="446" x2="98.50" y2="448.90" stroke="#e8c8c8" stroke-width="1.25"/>
<line x1="99.9" y1="451.8" x2="101.80" y2="453.15" stroke="#7d4f32" stroke-width="1.25"/>
<line x1="103.7" y1="454.5" x2="101.80" y2="453.15" stroke="#e8c8c8" stroke-width="1.25"/>
<line x1="99.9" y1="451.8" x2="103.20" y2="450.55" stroke="#7d4f32" stroke-width="1.25"/>
<line x1="106.5" y1="449.3" x2="103.20" y2="450.55" stroke="#7d4f32" stroke-width="1.25"/>
<line x1="106.5" y1="449.3" x2="105.50" y2="446.45" stroke="#7d4f32" stroke-width="1.25"/>
<line x1="104.5" y1="443.6" x2="105.50" y2="446.45" stroke="#e8c8c8" stroke-width="1.25"/>
<line x1="106.5" y1="449.3" x2="106.90" y2="451.60" stroke="#7d4f32" stroke-width="1.25"/>
<line x1="107.3" y1="453.9" x2="106.90" y2="451.60" stroke="#e8c8c8" stroke-width="1.25"/>
<line x1="106.5" y1="449.3" x2="111.05" y2="448.35" stroke="#7d4f32" stroke-width="1.25"/>
<line x1="115.6" y1="447.4" x2="111.05" y2="448.35" stroke="#7d4f32" stroke-width="1.25"/>
<line x1="115.6" y1="447.4" x2="115.40" y2="444.80" stroke="#7d4f32" stroke-width="1.25"/>
<line x1="115.2" y1="442.2" x2="115.40" y2="444.80" stroke="#e8c8c8" stroke-width="1.25"/>
<line x1="115.6" y1="447.4" x2="119.30" y2="446.70" stroke="#7d4f32" stroke-width="1.25"/>
<line x1="123" y1="446" x2="119.30" y2="446.70" stroke="#7d4f32" stroke-width="1.25"/>
<line x1="123" y1="446" x2="121.80" y2="444.10" stroke="#7d4f32" stroke-width="1.25"/>
<line x1="120.6" y1="442.2" x2="121.80" y2="444.10" stroke="#e8c8c8" stroke-width="1.25"/>
<line x1="123" y1="446" x2="125.30" y2="444.00" stroke="#7d4f32" stroke-width="1.25"/>
<line x1="127.6" y1="442" x2="125.30" y2="444.00" stroke="#e8c8c8" stroke-width="1.25"/>
<line x1="115.6" y1="447.4" x2="116.80" y2="451.65" stroke="#7d4f32" stroke-width="1.25"/>
<line x1="118" y1="455.9" x2="116.80" y2="451.65" stroke="#e4222a" stroke-width="1.25"/>
<line x1="123" y1="446" x2="124.65" y2="450.15" stroke="#7d4f32" stroke-width="1.25"/>
<line x1="126.3" y1="454.3" x2="124.65" y2="450.15" stroke="#e4222a" stroke-width="1.25"/>
<line x1="118" y1="455.9" x2="121.05" y2="457.55" stroke="#e4222a" stroke-width="1.25"/>
<line x1="124.1" y1="459.2" x2="121.05" y2="457.55" stroke="#7d4f32" stroke-width="1.25"/>
<line x1="126.3" y1="454.3" x2="125.20" y2="456.75" stroke="#e4222a" stroke-width="1.25"/>
<line x1="124.1" y1="459.2" x2="125.20" y2="456.75" stroke="#7d4f32" stroke-width="1.25"/>
<line x1="124.1" y1="459.2" x2="125.05" y2="463.20" stroke="#7d4f32" stroke-width="1.25"/>
<line x1="126" y1="467.2" x2="125.05" y2="463.20" stroke="#e4222a" stroke-width="1.25"/>
<line x1="53.7" y1="446.2" x2="52.50" y2="450.35" stroke="#7d4f32" stroke-width="1.25"/>
<line x1="51.3" y1="454.5" x2="52.50" y2="450.35" stroke="#e4222a" stroke-width="1.25"/>
<line x1="51.3" y1="454.5" x2="50.35" y2="456.85" stroke="#e4222a" stroke-width="1.25"/>
<line x1="49.4" y1="459.2" x2="50.35" y2="456.85" stroke="#7d4f32" stroke-width="1.25"/>
<line x1="49.4" y1="459.2" x2="48.70" y2="463.20" stroke="#7d4f32" stroke-width="1.25"/>
<line x1="48" y1="467.2" x2="48.70" y2="463.20" stroke="#e4222a" stroke-width="1.25"/>
<line x1="48" y1="467.2" x2="46.69" y2="470.61" stroke="#e4222a" stroke-width="1.25"/>
<line x1="46.69" y1="470.61" x2="45.38254535520576" y2="474.0191581535429" stroke="#86d06e" stroke-width="1.25"/>
<line x1="48" y1="467.2" x2="52.77" y2="471.11" stroke="#e4222a" stroke-width="1.25"/>
<line x1="52.77" y1="471.11" x2="57.54594091262904" y2="475.01031529215106" stroke="#86d06e" stroke-width="1.25"/>
<line x1="71.5" y1="466.7" x2="67.02" y2="470.79" stroke="#e4222a" stroke-width="1.25"/>
<line x1="67.02" y1="470.79" x2="62.53792788178709" y2="474.8759254411767" stroke="#86d06e" stroke-width="1.25"/>
<line x1="71.5" y1="466.7" x2="73.13" y2="470.39" stroke="#e4222a" stroke-width="1.25"/>
<line x1="73.13" y1="470.39" x2="74.76513015123358" y2="474.08203338539766" stroke="#86d06e" stroke-width="1.25"/>
<line x1="95.8" y1="466.7" x2="94.47" y2="470.35" stroke="#e4222a" stroke-width="1.25"/>
<line x1="94.47" y1="470.35" x2="93.13253674464768" y2="474.0004257514906" stroke="#86d06e" stroke-width="1.25"/>
<line x1="95.8" y1="466.7" x2="100.60" y2="470.82" stroke="#e4222a" stroke-width="1.25"/>
<line x1="100.60" y1="470.82" x2="105.39737545942762" y2="474.94898386595435" stroke="#86d06e" stroke-width="1.25"/>
<line x1="126" y1="467.2" x2="125.29" y2="470.54" stroke="#e4222a" stroke-width="1.25"/>
<line x1="125.29" y1="470.54" x2="124.58476388757171" y2="473.87182738716194" stroke="#86d06e" stroke-width="1.25"/>
<circle cx="47.5" cy="443.7" r="1.35" fill="#f4dede" stroke="#c99e9e" stroke-width="0.6"/>
<circle cx="50.8" cy="440.4" r="1.35" fill="#f4dede" stroke="#c99e9e" stroke-width="0.6"/>
<circle cx="57.9" cy="444.1" r="1.35" fill="#f4dede" stroke="#c99e9e" stroke-width="0.6"/>
<circle cx="64.5" cy="440.4" r="1.35" fill="#f4dede" stroke="#c99e9e" stroke-width="0.6"/>
<circle cx="67.8" cy="441.3" r="1.35" fill="#f4dede" stroke="#c99e9e" stroke-width="0.6"/>
<circle cx="65.4" cy="456.8" r="1.35" fill="#f4dede" stroke="#c99e9e" stroke-width="0.6"/>
<circle cx="74.8" cy="448.8" r="1.35" fill="#f4dede" stroke="#c99e9e" stroke-width="0.6"/>
<circle cx="86.1" cy="445.5" r="1.35" fill="#f4dede" stroke="#c99e9e" stroke-width="0.6"/>
<circle cx="86.1" cy="452.6" r="1.35" fill="#f4dede" stroke="#c99e9e" stroke-width="0.6"/>
<circle cx="76.5" cy="448.2" r="1.35" fill="#f4dede" stroke="#c99e9e" stroke-width="0.6"/>
<circle cx="97.1" cy="446" r="1.35" fill="#f4dede" stroke="#c99e9e" stroke-width="0.6"/>
<circle cx="103.7" cy="454.5" r="1.35" fill="#f4dede" stroke="#c99e9e" stroke-width="0.6"/>
<circle cx="104.5" cy="443.6" r="1.35" fill="#f4dede" stroke="#c99e9e" stroke-width="0.6"/>
<circle cx="107.3" cy="453.9" r="1.35" fill="#f4dede" stroke="#c99e9e" stroke-width="0.6"/>
<circle cx="115.2" cy="442.2" r="1.35" fill="#f4dede" stroke="#c99e9e" stroke-width="0.6"/>
<circle cx="120.6" cy="442.2" r="1.35" fill="#f4dede" stroke="#c99e9e" stroke-width="0.6"/>
<circle cx="127.6" cy="442" r="1.35" fill="#f4dede" stroke="#c99e9e" stroke-width="0.6"/>
<circle cx="53.7" cy="446.2" r="1.9" fill="url(#aC)"/>
<circle cx="64.3" cy="444.6" r="1.9" fill="url(#aC)"/>
<circle cx="69.4" cy="452.6" r="1.9" fill="url(#aC)"/>
<circle cx="73.4" cy="458.7" r="1.9" fill="url(#aC)"/>
<circle cx="81.4" cy="456.8" r="1.9" fill="url(#aN)"/>
<circle cx="85.7" cy="457.3" r="1.9" fill="url(#aN)"/>
<circle cx="81.9" cy="451.2" r="1.9" fill="url(#aC)"/>
<circle cx="93.9" cy="458.7" r="1.9" fill="url(#aC)"/>
<circle cx="99.9" cy="451.8" r="1.9" fill="url(#aC)"/>
<circle cx="106.5" cy="449.3" r="1.9" fill="url(#aC)"/>
<circle cx="115.6" cy="447.4" r="1.9" fill="url(#aC)"/>
<circle cx="123" cy="446" r="1.9" fill="url(#aC)"/>
<circle cx="124.1" cy="459.2" r="1.9" fill="url(#aC)"/>
<circle cx="49.4" cy="459.2" r="1.9" fill="url(#aC)"/>
<circle cx="71.5" cy="466.7" r="2.1" fill="url(#aO)"/>
<circle cx="95.8" cy="466.7" r="2.1" fill="url(#aO)"/>
<circle cx="118" cy="455.9" r="2.1" fill="url(#aO)"/>
<circle cx="126.3" cy="454.3" r="2.1" fill="url(#aO)"/>
<circle cx="126" cy="467.2" r="2.1" fill="url(#aO)"/>
<circle cx="51.3" cy="454.5" r="2.1" fill="url(#aO)"/>
<circle cx="48" cy="467.2" r="2.1" fill="url(#aO)"/>
<line x1="218.1" y1="459.1" x2="216.15" y2="457.05" stroke="#7d4f32" stroke-width="1.25"/>
<line x1="214.2" y1="455" x2="216.15" y2="457.05" stroke="#e8c8c8" stroke-width="1.25"/>
<line x1="218.1" y1="459.1" x2="216.05" y2="460.80" stroke="#7d4f32" stroke-width="1.25"/>
<line x1="214" y1="462.5" x2="216.05" y2="460.80" stroke="#e8c8c8" stroke-width="1.25"/>
<line x1="218.1" y1="459.1" x2="220.65" y2="462.20" stroke="#7d4f32" stroke-width="1.25"/>
<line x1="223.2" y1="465.3" x2="220.65" y2="462.20" stroke="#e4222a" stroke-width="1.25"/>
<line x1="223.2" y1="465.3" x2="225.75" y2="461.65" stroke="#e4222a" stroke-width="1.25"/>
<line x1="228.3" y1="458" x2="225.75" y2="461.65" stroke="#7d4f32" stroke-width="1.25"/>
<line x1="228.3" y1="458" x2="225.90" y2="455.65" stroke="#7d4f32" stroke-width="1.25"/>
<line x1="223.5" y1="453.3" x2="225.90" y2="455.65" stroke="#e8c8c8" stroke-width="1.25"/>
<line x1="228.3" y1="458" x2="230.15" y2="456.00" stroke="#7d4f32" stroke-width="1.25"/>
<line x1="232" y1="454" x2="230.15" y2="456.00" stroke="#e8c8c8" stroke-width="1.25"/>
<line x1="228.3" y1="458" x2="231.25" y2="459.10" stroke="#7d4f32" stroke-width="1.25"/>
<line x1="234.2" y1="460.2" x2="231.25" y2="459.10" stroke="#7d4f32" stroke-width="1.25"/>
<line x1="234.2" y1="460.2" x2="235.10" y2="456.85" stroke="#7d4f32" stroke-width="1.25"/>
<line x1="236" y1="453.5" x2="235.10" y2="456.85" stroke="#e8c8c8" stroke-width="1.25"/>
<line x1="234.2" y1="460.2" x2="232.25" y2="461.35" stroke="#7d4f32" stroke-width="1.25"/>
<line x1="230.3" y1="462.5" x2="232.25" y2="461.35" stroke="#e8c8c8" stroke-width="1.25"/>
<line x1="234.2" y1="460.2" x2="237.80" y2="463.25" stroke="#7d4f32" stroke-width="1.25"/>
<line x1="241.4" y1="466.3" x2="237.80" y2="463.25" stroke="#e4222a" stroke-width="1.25"/>
<line x1="241.4" y1="466.3" x2="244.60" y2="462.80" stroke="#e4222a" stroke-width="1.25"/>
<line x1="247.8" y1="459.3" x2="244.60" y2="462.80" stroke="#7d4f32" stroke-width="1.25"/>
<line x1="247.8" y1="459.3" x2="246.65" y2="457.05" stroke="#7d4f32" stroke-width="1.25"/>
<line x1="245.5" y1="454.8" x2="246.65" y2="457.05" stroke="#e8c8c8" stroke-width="1.25"/>
<line x1="247.8" y1="459.3" x2="248.50" y2="456.95" stroke="#7d4f32" stroke-width="1.25"/>
<line x1="249.2" y1="454.6" x2="248.50" y2="456.95" stroke="#e8c8c8" stroke-width="1.25"/>
<line x1="247.8" y1="459.3" x2="250.80" y2="460.25" stroke="#7d4f32" stroke-width="1.25"/>
<line x1="253.8" y1="461.2" x2="250.80" y2="460.25" stroke="#e8c8c8" stroke-width="1.25"/>
<line x1="223.2" y1="465.3" x2="223.16" y2="469.55" stroke="#e4222a" stroke-width="1.25"/>
<line x1="223.16" y1="469.55" x2="223.12796509750805" y2="473.80011849404843" stroke="#86d06e" stroke-width="1.25"/>
<line x1="241.4" y1="466.3" x2="240.63" y2="470.08" stroke="#e4222a" stroke-width="1.25"/>
<line x1="240.63" y1="470.08" x2="239.85869479107595" y2="473.86640738926354" stroke="#86d06e" stroke-width="1.25"/>
<circle cx="214.2" cy="455" r="1.35" fill="#f4dede" stroke="#c99e9e" stroke-width="0.6"/>
<circle cx="214" cy="462.5" r="1.35" fill="#f4dede" stroke="#c99e9e" stroke-width="0.6"/>
<circle cx="223.5" cy="453.3" r="1.35" fill="#f4dede" stroke="#c99e9e" stroke-width="0.6"/>
<circle cx="232" cy="454" r="1.35" fill="#f4dede" stroke="#c99e9e" stroke-width="0.6"/>
<circle cx="236" cy="453.5" r="1.35" fill="#f4dede" stroke="#c99e9e" stroke-width="0.6"/>
<circle cx="230.3" cy="462.5" r="1.35" fill="#f4dede" stroke="#c99e9e" stroke-width="0.6"/>
<circle cx="245.5" cy="454.8" r="1.35" fill="#f4dede" stroke="#c99e9e" stroke-width="0.6"/>
<circle cx="249.2" cy="454.6" r="1.35" fill="#f4dede" stroke="#c99e9e" stroke-width="0.6"/>
<circle cx="253.8" cy="461.2" r="1.35" fill="#f4dede" stroke="#c99e9e" stroke-width="0.6"/>
<circle cx="218.1" cy="459.1" r="1.9" fill="url(#aC)"/>
<circle cx="228.3" cy="458" r="1.9" fill="url(#aC)"/>
<circle cx="234.2" cy="460.2" r="1.9" fill="url(#aC)"/>
<circle cx="247.8" cy="459.3" r="1.9" fill="url(#aC)"/>
<circle cx="223.2" cy="465.3" r="2.1" fill="url(#aO)"/>
<circle cx="241.4" cy="466.3" r="2.1" fill="url(#aO)"/>
<line x1="356" y1="445" x2="360.70" y2="445.00" stroke="#7d4f32" stroke-width="1.25"/>
<line x1="365.4" y1="445" x2="360.70" y2="445.00" stroke="#7d4f32" stroke-width="1.25"/>
<line x1="356" y1="445" x2="354.85" y2="449.65" stroke="#7d4f32" stroke-width="1.25"/>
<line x1="353.7" y1="454.3" x2="354.85" y2="449.65" stroke="#e4222a" stroke-width="1.25"/>
<line x1="365.4" y1="445" x2="366.35" y2="449.85" stroke="#7d4f32" stroke-width="1.25"/>
<line x1="367.3" y1="454.7" x2="366.35" y2="449.85" stroke="#e4222a" stroke-width="1.25"/>
<line x1="353.7" y1="454.3" x2="356.95" y2="456.50" stroke="#e4222a" stroke-width="1.25"/>
<line x1="360.2" y1="458.7" x2="356.95" y2="456.50" stroke="#7d4f32" stroke-width="1.25"/>
<line x1="367.3" y1="454.7" x2="363.75" y2="456.70" stroke="#e4222a" stroke-width="1.25"/>
<line x1="360.2" y1="458.7" x2="363.75" y2="456.70" stroke="#7d4f32" stroke-width="1.25"/>
<line x1="360.2" y1="458.7" x2="360.20" y2="462.95" stroke="#7d4f32" stroke-width="1.25"/>
<line x1="360.2" y1="467.2" x2="360.20" y2="462.95" stroke="#e4222a" stroke-width="1.25"/>
<line x1="365.4" y1="445" x2="368.70" y2="443.40" stroke="#7d4f32" stroke-width="1.25"/>
<line x1="372" y1="441.8" x2="368.70" y2="443.40" stroke="#7d4f32" stroke-width="1.25"/>
<line x1="372" y1="441.8" x2="372.95" y2="438.60" stroke="#7d4f32" stroke-width="1.25"/>
<line x1="373.9" y1="435.4" x2="372.95" y2="438.60" stroke="#e8c8c8" stroke-width="1.25"/>
<line x1="372" y1="441.8" x2="374.85" y2="444.20" stroke="#7d4f32" stroke-width="1.25"/>
<line x1="377.7" y1="446.6" x2="374.85" y2="444.20" stroke="#e8c8c8" stroke-width="1.25"/>
<line x1="372" y1="441.8" x2="369.80" y2="441.50" stroke="#7d4f32" stroke-width="1.25"/>
<line x1="367.6" y1="441.2" x2="369.80" y2="441.50" stroke="#e8c8c8" stroke-width="1.25"/>
<line x1="356" y1="445" x2="354.40" y2="443.65" stroke="#7d4f32" stroke-width="1.25"/>
<line x1="352.8" y1="442.3" x2="354.40" y2="443.65" stroke="#e8c8c8" stroke-width="1.25"/>
<line x1="356" y1="445" x2="355.75" y2="442.90" stroke="#7d4f32" stroke-width="1.25"/>
<line x1="355.5" y1="440.8" x2="355.75" y2="442.90" stroke="#e8c8c8" stroke-width="1.25"/>
<line x1="360.2" y1="467.2" x2="365.34" y2="471.15" stroke="#e4222a" stroke-width="1.25"/>
<line x1="365.34" y1="471.15" x2="370.48207922390213" y2="475.09089800904115" stroke="#86d06e" stroke-width="1.25"/>
<line x1="360.2" y1="467.2" x2="359.11" y2="470.58" stroke="#e4222a" stroke-width="1.25"/>
<line x1="359.11" y1="470.58" x2="358.01496242777364" y2="473.95995998907534" stroke="#86d06e" stroke-width="1.25"/>
<circle cx="373.9" cy="435.4" r="1.35" fill="#f4dede" stroke="#c99e9e" stroke-width="0.6"/>
<circle cx="377.7" cy="446.6" r="1.35" fill="#f4dede" stroke="#c99e9e" stroke-width="0.6"/>
<circle cx="367.6" cy="441.2" r="1.35" fill="#f4dede" stroke="#c99e9e" stroke-width="0.6"/>
<circle cx="352.8" cy="442.3" r="1.35" fill="#f4dede" stroke="#c99e9e" stroke-width="0.6"/>
<circle cx="355.5" cy="440.8" r="1.35" fill="#f4dede" stroke="#c99e9e" stroke-width="0.6"/>
<circle cx="356" cy="445" r="1.9" fill="url(#aC)"/>
<circle cx="365.4" cy="445" r="1.9" fill="url(#aC)"/>
<circle cx="360.2" cy="458.7" r="1.9" fill="url(#aC)"/>
<circle cx="372" cy="441.8" r="1.9" fill="url(#aC)"/>
<circle cx="353.7" cy="454.3" r="2.1" fill="url(#aO)"/>
<circle cx="367.3" cy="454.7" r="2.1" fill="url(#aO)"/>
<circle cx="360.2" cy="467.2" r="2.1" fill="url(#aO)"/>
<text x="93.3" y="524.3" font-size="15.8" text-anchor="middle" fill="#111" color="#111" >PVM-Li(110)</text>
<text x="243.6" y="524.3" font-size="15.8" text-anchor="middle" fill="#111" color="#111" >DME-Li(110)</text>
<text x="373.6" y="524.3" font-size="15.8" text-anchor="middle" fill="#111" color="#111" >PC-Li(110)</text>
<radialGradient id="cg" cx="0.5" cy="0.5" r="0.5"><stop offset="0" stop-color="#f3d6bb"/><stop offset="0.45" stop-color="#9a6444"/><stop offset="1" stop-color="#6b3d24"/></radialGradient>
<radialGradient id="og" cx="0.45" cy="0.45" r="0.55"><stop offset="0" stop-color="#ff9a9a"/><stop offset="0.4" stop-color="#ee2a2a"/><stop offset="1" stop-color="#c81818"/></radialGradient>
<radialGradient id="ng" cx="0.45" cy="0.45" r="0.55"><stop offset="0" stop-color="#ffffff"/><stop offset="0.45" stop-color="#c4cdea"/><stop offset="1" stop-color="#8e9ccc"/></radialGradient>
<circle cx="455.8" cy="386.7" r="3.3" fill="url(#cg)"/>
<circle cx="454.9" cy="410.5" r="1.8" fill="#fff" stroke="#c89c9c" stroke-width="0.8"/>
<circle cx="455.3" cy="435.3" r="3.1" fill="url(#og)"/>
<circle cx="455.3" cy="459.6" r="3.1" fill="url(#ng)"/>
<circle cx="455.60" cy="483.10" r="6.6" fill="url(#li)"/>
<text x="466.3" y="391.9" font-size="13.6" text-anchor="start" fill="#111" color="#111" >C</text>
<text x="466.9" y="415.5" font-size="13.6" text-anchor="start" fill="#111" color="#111" >H</text>
<text x="467.4" y="439.3" font-size="15" text-anchor="start" fill="#111" color="#111" >o</text>
<text x="467.6" y="462.6" font-size="13.6" text-anchor="start" fill="#111" color="#111" >N</text>
<text x="467.6" y="488.0" font-size="13.6" text-anchor="start" fill="#111" color="#111" >Li</text>
<line x1="458.5" y1="524.5" x2="458.5" y2="511" stroke="#1010ee" stroke-width="1.3"/>
<polygon points="458.5,506.8 456.4,512.6 460.6,512.6" fill="#1010ee"/>
<line x1="458.5" y1="524.5" x2="472" y2="524.5" stroke="#ee1010" stroke-width="1.3"/>
<polygon points="477.2,524.5 471,522.4 471,526.6" fill="#ee1010"/>
<circle cx="458.5" cy="524.5" r="1.6" fill="#f4f4f4" stroke="#888" stroke-width="0.5"/>
<text x="458.8" y="504.6" font-size="4.5" text-anchor="middle" fill="#333" color="#333" font-weight="bold">c</text>
<text x="481.2" y="526.2" font-size="4.5" text-anchor="middle" fill="#333" color="#333" font-weight="bold">a</text>
<text x="503.3" y="202.6" font-size="15.5" text-anchor="start" fill="#111" color="#111" >d</text>
<rect x="535.5" y="213.3" width="145.0" height="114.89999999999998" fill="none" stroke="#707070" stroke-width="1"/>
<line x1="533.3" y1="328.20" x2="535.5" y2="328.20" stroke="#707070" stroke-width="0.8"/>
<text x="531.10" y="330.80" font-size="7.2" text-anchor="end" fill="#222" color="#222" >0</text>
<line x1="533.3" y1="305.22" x2="535.5" y2="305.22" stroke="#707070" stroke-width="0.8"/>
<text x="531.10" y="307.82" font-size="7.2" text-anchor="end" fill="#222" color="#222" >&#8722;200</text>
<line x1="533.3" y1="282.24" x2="535.5" y2="282.24" stroke="#707070" stroke-width="0.8"/>
<text x="531.10" y="284.84" font-size="7.2" text-anchor="end" fill="#222" color="#222" >&#8722;400</text>
<line x1="533.3" y1="259.26" x2="535.5" y2="259.26" stroke="#707070" stroke-width="0.8"/>
<text x="531.10" y="261.86" font-size="7.2" text-anchor="end" fill="#222" color="#222" >&#8722;600</text>
<line x1="533.3" y1="236.28" x2="535.5" y2="236.28" stroke="#707070" stroke-width="0.8"/>
<text x="531.10" y="238.88" font-size="7.2" text-anchor="end" fill="#222" color="#222" >&#8722;800</text>
<line x1="533.3" y1="213.30" x2="535.5" y2="213.30" stroke="#707070" stroke-width="0.8"/>
<text x="531.10" y="215.90" font-size="7.2" text-anchor="end" fill="#222" color="#222" >&#8722;1000</text>
<line x1="534.2" y1="316.71" x2="535.5" y2="316.71" stroke="#606060" stroke-width="0.8"/>
<line x1="534.2" y1="293.73" x2="535.5" y2="293.73" stroke="#606060" stroke-width="0.8"/>
<line x1="534.2" y1="270.75" x2="535.5" y2="270.75" stroke="#606060" stroke-width="0.8"/>
<line x1="534.2" y1="247.77" x2="535.5" y2="247.77" stroke="#606060" stroke-width="0.8"/>
<line x1="534.2" y1="224.79" x2="535.5" y2="224.79" stroke="#606060" stroke-width="0.8"/>
<rect x="550" y="237.25" width="20.200000000000045" height="90.45" fill="url(#gp)"/>
<text x="560.1" y="235.85" font-size="8.8" text-anchor="middle" fill="#222" color="#222" >-791.58</text>
<text x="0" y="0" font-size="8.9" text-anchor="end" fill="#222" color="#222" transform="translate(584.6,338.6) rotate(-18)">PVM-Li (200)</text>
<rect x="598.2" y="306.79" width="19.899999999999977" height="20.91" fill="url(#gb)"/>
<text x="608.2" y="305.39" font-size="8.8" text-anchor="middle" fill="#222" color="#222" >-186.36</text>
<text x="0" y="0" font-size="8.9" text-anchor="end" fill="#222" color="#222" transform="translate(631.2,337.6) rotate(-18)">PC-Li (200)</text>
<rect x="646.3" y="309.04" width="19.90000000000009" height="18.66" fill="url(#gg)"/>
<text x="656.3" y="307.64" font-size="8.8" text-anchor="middle" fill="#222" color="#222" >-166.72</text>
<text x="0" y="0" font-size="8.9" text-anchor="end" fill="#222" color="#222" transform="translate(682.2,338.4) rotate(-18)">DME-Li (200)</text>
<polygon points="559.10,216.80 560.09,219.44 562.90,219.56 560.70,221.32 561.45,224.04 559.10,222.48 556.75,224.04 557.50,221.32 555.30,219.56 558.11,219.44" fill="#f0262c"/>
<text x="0" y="0" font-size="9.1" text-anchor="start" fill="#222" color="#222" transform="translate(508.2,309.5) rotate(-90)">Energy <tspan letter-spacing="0.3">(kcal mol</tspan><tspan font-size="5.8" dx="0.4" dy="-4.0">-1</tspan><tspan dy="4.0" dx="0.2">)</tspan></text>
<text x="499.3" y="373.6" font-size="15.5" text-anchor="start" fill="#111" color="#111" >f</text>
<rect x="536.9" y="387.4" width="144.39999999999998" height="115.0" fill="none" stroke="#707070" stroke-width="1"/>
<line x1="534.6999999999999" y1="502.40" x2="536.9" y2="502.40" stroke="#707070" stroke-width="0.8"/>
<text x="532.50" y="505.00" font-size="7.2" text-anchor="end" fill="#222" color="#222" >0</text>
<line x1="534.6999999999999" y1="483.23" x2="536.9" y2="483.23" stroke="#707070" stroke-width="0.8"/>
<text x="532.50" y="485.83" font-size="7.2" text-anchor="end" fill="#222" color="#222" >&#8722;200</text>
<line x1="534.6999999999999" y1="464.07" x2="536.9" y2="464.07" stroke="#707070" stroke-width="0.8"/>
<text x="532.50" y="466.67" font-size="7.2" text-anchor="end" fill="#222" color="#222" >&#8722;400</text>
<line x1="534.6999999999999" y1="444.90" x2="536.9" y2="444.90" stroke="#707070" stroke-width="0.8"/>
<text x="532.50" y="447.50" font-size="7.2" text-anchor="end" fill="#222" color="#222" >&#8722;600</text>
<line x1="534.6999999999999" y1="425.73" x2="536.9" y2="425.73" stroke="#707070" stroke-width="0.8"/>
<text x="532.50" y="428.33" font-size="7.2" text-anchor="end" fill="#222" color="#222" >&#8722;800</text>
<line x1="534.6999999999999" y1="406.57" x2="536.9" y2="406.57" stroke="#707070" stroke-width="0.8"/>
<text x="532.50" y="409.17" font-size="7.2" text-anchor="end" fill="#222" color="#222" >&#8722;1000</text>
<line x1="534.6999999999999" y1="387.40" x2="536.9" y2="387.40" stroke="#707070" stroke-width="0.8"/>
<text x="532.50" y="390.00" font-size="7.2" text-anchor="end" fill="#222" color="#222" >&#8722;1200</text>
<line x1="535.6" y1="492.82" x2="536.9" y2="492.82" stroke="#606060" stroke-width="0.8"/>
<line x1="535.6" y1="473.65" x2="536.9" y2="473.65" stroke="#606060" stroke-width="0.8"/>
<line x1="535.6" y1="454.48" x2="536.9" y2="454.48" stroke="#606060" stroke-width="0.8"/>
<line x1="535.6" y1="435.32" x2="536.9" y2="435.32" stroke="#606060" stroke-width="0.8"/>
<line x1="535.6" y1="416.15" x2="536.9" y2="416.15" stroke="#606060" stroke-width="0.8"/>
<line x1="535.6" y1="396.98" x2="536.9" y2="396.98" stroke="#606060" stroke-width="0.8"/>
<rect x="551" y="407.87" width="19.799999999999955" height="94.03" fill="url(#gp)"/>
<text x="560.8" y="406.47" font-size="8.8" text-anchor="middle" fill="#222" color="#222" >-986.35</text>
<text x="0" y="0" font-size="8.9" text-anchor="end" fill="#222" color="#222" transform="translate(585.4,512.6) rotate(-18)">PVM-Li (110)</text>
<rect x="599.3" y="480.25" width="19.700000000000045" height="21.65" fill="url(#gb)"/>
<text x="609" y="478.85" font-size="8.8" text-anchor="middle" fill="#222" color="#222" >-231.14</text>
<text x="0" y="0" font-size="8.9" text-anchor="end" fill="#222" color="#222" transform="translate(632.3,511.6) rotate(-18)">PC-Li (110)</text>
<rect x="647.6" y="480.47" width="19.600000000000023" height="21.43" fill="url(#gg)"/>
<text x="657.3" y="479.07" font-size="8.8" text-anchor="middle" fill="#222" color="#222" >-228.81</text>
<text x="0" y="0" font-size="8.9" text-anchor="end" fill="#222" color="#222" transform="translate(683.0,511.6) rotate(-18)">DME-Li (110)</text>
<polygon points="560.80,389.60 561.79,392.24 564.60,392.36 562.40,394.12 563.15,396.84 560.80,395.28 558.45,396.84 559.20,394.12 557.00,392.36 559.81,392.24" fill="#f0262c"/>
<text x="0" y="0" font-size="9.1" text-anchor="start" fill="#222" color="#222" transform="translate(508.2,483.6) rotate(-90)">Energy <tspan letter-spacing="0.3">(kcal mol</tspan><tspan font-size="5.8" dx="0.4" dy="-4.0">-1</tspan><tspan dy="4.0" dx="0.2">)</tspan></text>
</svg></body></html>
